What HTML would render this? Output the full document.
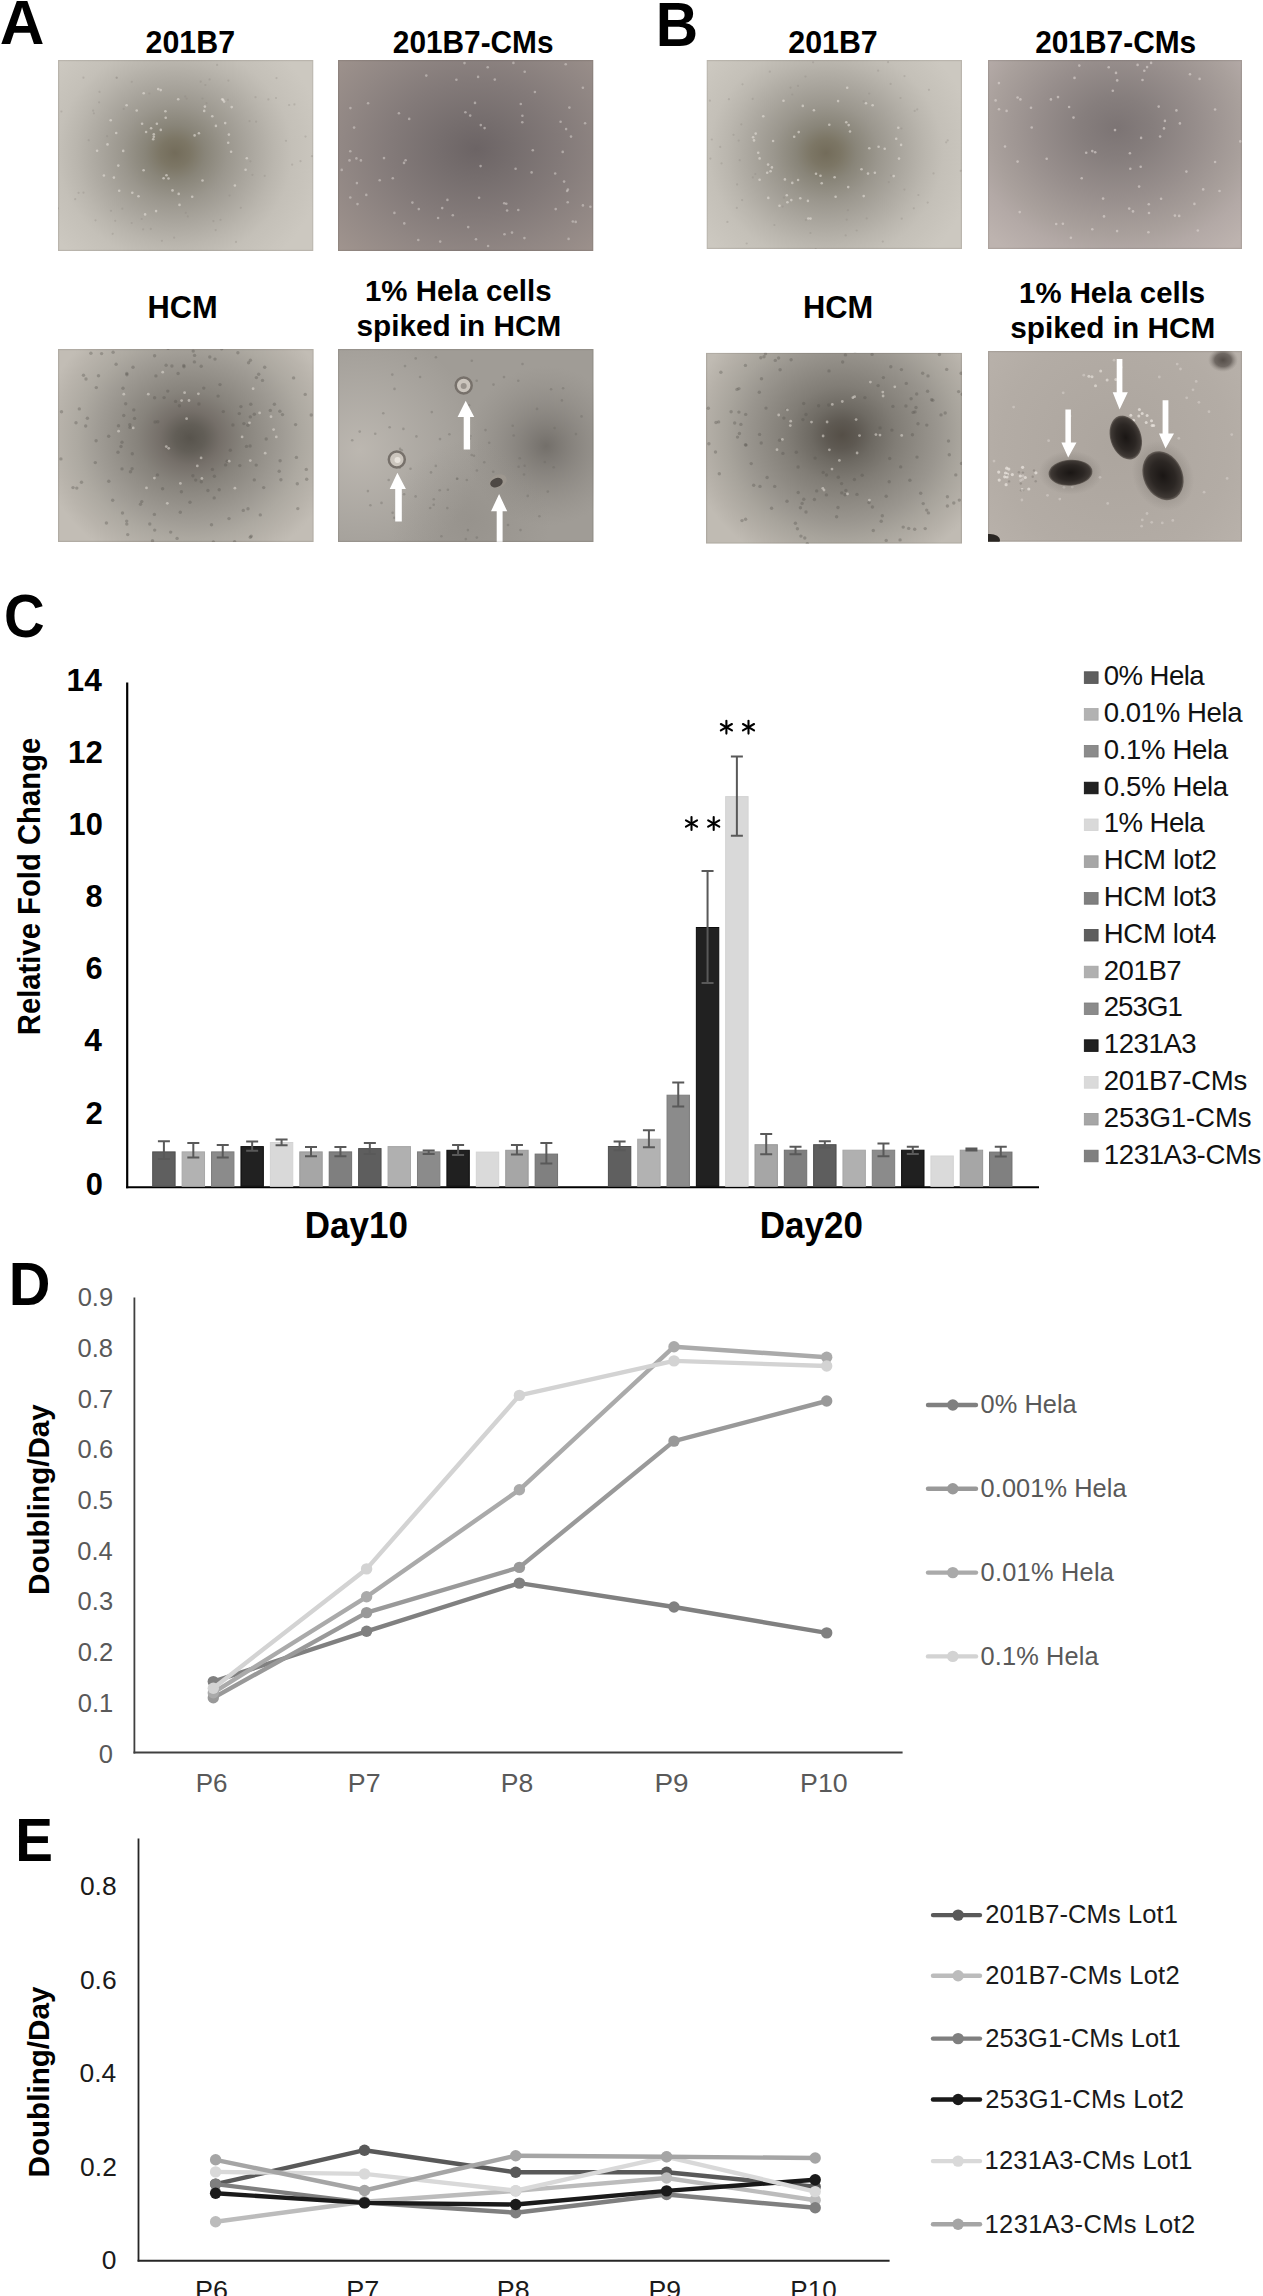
<!DOCTYPE html>
<html><head><meta charset="utf-8"><title>Figure</title>
<style>html,body{margin:0;padding:0;background:#fff;overflow:hidden;width:1263px;height:2296px;}svg{display:block;}
text{font-family:"Liberation Sans", sans-serif;font-kerning:none;}</style></head>
<body><svg width="1263" height="2296" viewBox="0 0 1263 2296">
<rect width="1263" height="2296" fill="#fff"/>
<defs>
<radialGradient id="gA1" gradientUnits="userSpaceOnUse" cx="175" cy="153" r="150" gradientTransform="translate(175 153) scale(1 0.93) translate(-175 -153)"><stop offset="0" stop-color="#736c5a"/><stop offset="0.1" stop-color="#7c7665"/><stop offset="0.2" stop-color="#898579"/><stop offset="0.35" stop-color="#9b978e"/><stop offset="0.5" stop-color="#aaa69e"/><stop offset="0.66" stop-color="#bab6ae"/><stop offset="0.78" stop-color="#c4c0b8"/><stop offset="1" stop-color="#ccc8c0"/></radialGradient>
<radialGradient id="gB1" gradientUnits="userSpaceOnUse" cx="826" cy="153" r="150" gradientTransform="translate(826 153) scale(1 0.93) translate(-826 -153)"><stop offset="0" stop-color="#736c5a"/><stop offset="0.1" stop-color="#7c7665"/><stop offset="0.2" stop-color="#898579"/><stop offset="0.35" stop-color="#9b978e"/><stop offset="0.5" stop-color="#aaa69e"/><stop offset="0.66" stop-color="#bab6ae"/><stop offset="0.78" stop-color="#c4c0b8"/><stop offset="1" stop-color="#ccc8c0"/></radialGradient>
<radialGradient id="gA2" gradientUnits="userSpaceOnUse" cx="476" cy="149" r="190" gradientTransform="translate(476 149) scale(1 0.8) translate(-476 -149)"><stop offset="0" stop-color="#6c6465"/><stop offset="0.2" stop-color="#766e6e"/><stop offset="0.45" stop-color="#837a79"/><stop offset="0.7" stop-color="#918784"/><stop offset="1" stop-color="#a1958f"/></radialGradient>
<radialGradient id="gA3" gradientUnits="userSpaceOnUse" cx="190" cy="438" r="150" gradientTransform="translate(190 438) scale(1 0.9) translate(-190 -438)"><stop offset="0" stop-color="#58544d"/><stop offset="0.1" stop-color="#625e57"/><stop offset="0.2" stop-color="#756f69"/><stop offset="0.35" stop-color="#87837c"/><stop offset="0.5" stop-color="#95918a"/><stop offset="0.62" stop-color="#a09c95"/><stop offset="0.75" stop-color="#ada9a1"/><stop offset="0.9" stop-color="#b9b4ac"/><stop offset="1" stop-color="#c2bdb5"/></radialGradient>
<radialGradient id="gB3" gradientUnits="userSpaceOnUse" cx="842" cy="435" r="155" gradientTransform="translate(842 435) scale(1 0.9) translate(-842 -435)"><stop offset="0" stop-color="#554f47"/><stop offset="0.1" stop-color="#5e5952"/><stop offset="0.2" stop-color="#6e6a63"/><stop offset="0.35" stop-color="#817d76"/><stop offset="0.5" stop-color="#8f8b84"/><stop offset="0.62" stop-color="#9a968f"/><stop offset="0.75" stop-color="#a8a49c"/><stop offset="0.9" stop-color="#b6b1a9"/><stop offset="1" stop-color="#c0bbb3"/></radialGradient>
<radialGradient id="gB2" gradientUnits="userSpaceOnUse" cx="1117" cy="128" r="180" gradientTransform="translate(1117 128) scale(1 0.85) translate(-1117 -128)"><stop offset="0" stop-color="#7c7474"/><stop offset="0.2" stop-color="#867e7d"/><stop offset="0.45" stop-color="#978e8c"/><stop offset="0.7" stop-color="#a9a09c"/><stop offset="0.82" stop-color="#b3a9a6"/><stop offset="1" stop-color="#bdb3af"/></radialGradient>
<radialGradient id="gA4d" gradientUnits="userSpaceOnUse" cx="546" cy="446" r="80"><stop offset="0" stop-color="#6e6a65" stop-opacity="0.9"/><stop offset="0.4" stop-color="#7a7671" stop-opacity="0.55"/><stop offset="1" stop-color="#8a8680" stop-opacity="0"/></radialGradient>
<radialGradient id="gA4l" gradientUnits="userSpaceOnUse" cx="360" cy="450" r="120"><stop offset="0" stop-color="#bfbab3" stop-opacity="0.9"/><stop offset="1" stop-color="#bdb9b3" stop-opacity="0"/></radialGradient>
<radialGradient id="gA4m" gradientUnits="userSpaceOnUse" cx="470" cy="520" r="80"><stop offset="0" stop-color="#8e8a84" stop-opacity="0.5"/><stop offset="1" stop-color="#8e8a84" stop-opacity="0"/></radialGradient>
<radialGradient id="gB4" gradientUnits="userSpaceOnUse" cx="1115" cy="446" r="190"><stop offset="0" stop-color="#aca59e"/><stop offset="0.6" stop-color="#b3aca5"/><stop offset="1" stop-color="#bcb5ae"/></radialGradient>
<radialGradient id="cell" gradientUnits="userSpaceOnUse" cx="0" cy="0" r="1"><stop offset="0" stop-color="#1c1816"/><stop offset="0.6" stop-color="#2e2926"/><stop offset="0.85" stop-color="#3d3733"/><stop offset="1" stop-color="#5a534e"/></radialGradient>
<radialGradient id="cellg" cx="0.5" cy="0.5" r="0.5"><stop offset="0" stop-color="#1a1614"/><stop offset="0.6" stop-color="#2c2724"/><stop offset="0.9" stop-color="#3f3935"/><stop offset="1" stop-color="#6a635d"/></radialGradient>
<radialGradient id="halo" cx="0.5" cy="0.5" r="0.5"><stop offset="0" stop-color="#6f6963" stop-opacity="0.7"/><stop offset="1" stop-color="#6f6963" stop-opacity="0"/></radialGradient>
<radialGradient id="blob" cx="0.5" cy="0.5" r="0.5"><stop offset="0" stop-color="#4f4843" stop-opacity="0.95"/><stop offset="0.55" stop-color="#5e5752" stop-opacity="0.8"/><stop offset="1" stop-color="#8a837d" stop-opacity="0"/></radialGradient>
<filter id="grain" x="0" y="0" width="100%" height="100%" color-interpolation-filters="sRGB"><feTurbulence type="fractalNoise" baseFrequency="0.11" numOctaves="2" seed="7" result="t"/><feColorMatrix in="t" type="matrix" values="0.2126 0.7152 0.0722 0 0 0.2126 0.7152 0.0722 0 0 0.2126 0.7152 0.0722 0 0 0 0 0 0 1" result="g"/><feComposite in="SourceGraphic" in2="g" operator="arithmetic" k1="0" k2="1" k3="0.18" k4="-0.09"/></filter>
</defs>
<svg x="58" y="60" width="255.5" height="191" viewBox="58 60 255.5 191" overflow="hidden">
<g><rect x="58" y="60" width="255.5" height="191" fill="url(#gA1)"/>
<circle cx="179.5" cy="204.9" r="1.3" fill="#e4e0d8" fill-opacity="0.6"/><circle cx="132.3" cy="192.7" r="1.3" fill="#e4e0d8" fill-opacity="0.6"/><circle cx="153.8" cy="134.3" r="1.3" fill="#e4e0d8" fill-opacity="0.6"/><circle cx="246.8" cy="158.2" r="1.3" fill="#e4e0d8" fill-opacity="0.6"/><circle cx="172.5" cy="190.4" r="1.3" fill="#e4e0d8" fill-opacity="0.6"/><circle cx="231.1" cy="151.7" r="1.3" fill="#e4e0d8" fill-opacity="0.6"/><circle cx="204.2" cy="110.9" r="1.3" fill="#e4e0d8" fill-opacity="0.6"/><circle cx="151.1" cy="128.2" r="1.3" fill="#e4e0d8" fill-opacity="0.6"/><circle cx="126.6" cy="105.2" r="1.3" fill="#e4e0d8" fill-opacity="0.6"/><circle cx="107.5" cy="144.4" r="1.3" fill="#e4e0d8" fill-opacity="0.6"/><circle cx="160.8" cy="129.9" r="1.3" fill="#e4e0d8" fill-opacity="0.6"/><circle cx="178.2" cy="99.2" r="1.3" fill="#e4e0d8" fill-opacity="0.6"/><circle cx="166.5" cy="175.2" r="1.3" fill="#e4e0d8" fill-opacity="0.6"/><circle cx="212.3" cy="116.3" r="1.3" fill="#e4e0d8" fill-opacity="0.6"/><circle cx="160.7" cy="90.1" r="1.3" fill="#e4e0d8" fill-opacity="0.6"/><circle cx="158.2" cy="89.1" r="1.3" fill="#e4e0d8" fill-opacity="0.6"/><circle cx="119.2" cy="190.7" r="1.3" fill="#e4e0d8" fill-opacity="0.6"/><circle cx="103.9" cy="175.5" r="1.3" fill="#e4e0d8" fill-opacity="0.6"/><circle cx="198.9" cy="133.2" r="1.3" fill="#e4e0d8" fill-opacity="0.6"/><circle cx="202.5" cy="180.5" r="1.3" fill="#e4e0d8" fill-opacity="0.6"/><circle cx="228.2" cy="142.8" r="1.3" fill="#e4e0d8" fill-opacity="0.6"/><circle cx="142.1" cy="123.7" r="1.3" fill="#e4e0d8" fill-opacity="0.6"/><circle cx="123.2" cy="150.9" r="1.3" fill="#e4e0d8" fill-opacity="0.6"/><circle cx="138.5" cy="196.2" r="1.3" fill="#e4e0d8" fill-opacity="0.6"/><circle cx="110.7" cy="120.2" r="1.3" fill="#e4e0d8" fill-opacity="0.6"/><circle cx="143.7" cy="93.2" r="1.3" fill="#e4e0d8" fill-opacity="0.6"/><circle cx="223.1" cy="99.9" r="1.3" fill="#e4e0d8" fill-opacity="0.6"/><circle cx="156.9" cy="123.8" r="1.3" fill="#e4e0d8" fill-opacity="0.6"/><circle cx="224.1" cy="101.6" r="1.3" fill="#e4e0d8" fill-opacity="0.6"/><circle cx="225.2" cy="123.1" r="1.3" fill="#e4e0d8" fill-opacity="0.6"/><circle cx="165.7" cy="117.8" r="1.3" fill="#e4e0d8" fill-opacity="0.6"/><circle cx="204.9" cy="106.6" r="1.3" fill="#e4e0d8" fill-opacity="0.6"/><circle cx="168.5" cy="178.5" r="1.3" fill="#e4e0d8" fill-opacity="0.6"/><circle cx="222.2" cy="99.2" r="1.3" fill="#e4e0d8" fill-opacity="0.6"/><circle cx="234.9" cy="185.5" r="1.3" fill="#e4e0d8" fill-opacity="0.6"/><circle cx="143.6" cy="170.3" r="1.3" fill="#e4e0d8" fill-opacity="0.6"/><circle cx="156.1" cy="211.1" r="1.3" fill="#e4e0d8" fill-opacity="0.6"/><circle cx="194.6" cy="135.4" r="1.3" fill="#e4e0d8" fill-opacity="0.6"/><circle cx="153.8" cy="136.8" r="1.3" fill="#e4e0d8" fill-opacity="0.6"/><circle cx="165.4" cy="111.3" r="1.3" fill="#e4e0d8" fill-opacity="0.6"/><circle cx="231.7" cy="107.1" r="1.3" fill="#e4e0d8" fill-opacity="0.6"/><circle cx="97.1" cy="150.7" r="1.3" fill="#e4e0d8" fill-opacity="0.6"/><circle cx="163.6" cy="178.3" r="1.3" fill="#e4e0d8" fill-opacity="0.6"/><circle cx="153.2" cy="139.3" r="1.3" fill="#e4e0d8" fill-opacity="0.6"/><circle cx="192.2" cy="196.7" r="1.3" fill="#e4e0d8" fill-opacity="0.6"/><circle cx="146.1" cy="132.0" r="1.3" fill="#e4e0d8" fill-opacity="0.6"/><circle cx="245.6" cy="169.8" r="1.3" fill="#e4e0d8" fill-opacity="0.6"/><circle cx="145.1" cy="214.4" r="1.3" fill="#e4e0d8" fill-opacity="0.6"/><circle cx="215.9" cy="125.9" r="1.3" fill="#e4e0d8" fill-opacity="0.6"/><circle cx="118.3" cy="165.6" r="1.3" fill="#e4e0d8" fill-opacity="0.6"/><circle cx="136.7" cy="110.5" r="1.3" fill="#e4e0d8" fill-opacity="0.6"/><circle cx="116.2" cy="133.0" r="1.3" fill="#e4e0d8" fill-opacity="0.6"/><circle cx="228.9" cy="134.6" r="1.3" fill="#e4e0d8" fill-opacity="0.6"/><circle cx="113.9" cy="177.6" r="1.3" fill="#e4e0d8" fill-opacity="0.6"/><circle cx="178.7" cy="193.9" r="1.3" fill="#e4e0d8" fill-opacity="0.6"/><circle cx="286.0" cy="140.8" r="1.1" fill="#8a867e" fill-opacity="0.3"/><circle cx="107.1" cy="136.2" r="1.1" fill="#8a867e" fill-opacity="0.3"/><circle cx="75.2" cy="199.2" r="1.1" fill="#8a867e" fill-opacity="0.3"/><circle cx="292.2" cy="164.7" r="1.1" fill="#8a867e" fill-opacity="0.3"/><circle cx="123.7" cy="108.9" r="1.1" fill="#8a867e" fill-opacity="0.3"/><circle cx="99.5" cy="91.9" r="1.1" fill="#8a867e" fill-opacity="0.3"/><circle cx="131.8" cy="81.8" r="1.1" fill="#8a867e" fill-opacity="0.3"/><circle cx="141.5" cy="58.0" r="1.1" fill="#8a867e" fill-opacity="0.3"/><circle cx="250.4" cy="161.3" r="1.1" fill="#8a867e" fill-opacity="0.3"/><circle cx="113.1" cy="56.0" r="1.1" fill="#8a867e" fill-opacity="0.3"/><circle cx="174.2" cy="237.7" r="1.1" fill="#8a867e" fill-opacity="0.3"/><circle cx="93.1" cy="110.7" r="1.1" fill="#8a867e" fill-opacity="0.3"/><circle cx="111.0" cy="210.8" r="1.1" fill="#8a867e" fill-opacity="0.3"/><circle cx="95.5" cy="220.3" r="1.1" fill="#8a867e" fill-opacity="0.3"/><circle cx="143.2" cy="229.3" r="1.1" fill="#8a867e" fill-opacity="0.3"/><circle cx="185.2" cy="96.4" r="1.1" fill="#8a867e" fill-opacity="0.3"/><circle cx="61.4" cy="111.5" r="1.1" fill="#8a867e" fill-opacity="0.3"/><circle cx="141.7" cy="219.0" r="1.1" fill="#8a867e" fill-opacity="0.3"/><circle cx="205.4" cy="85.0" r="1.1" fill="#8a867e" fill-opacity="0.3"/><circle cx="215.7" cy="230.1" r="1.1" fill="#8a867e" fill-opacity="0.3"/><circle cx="149.4" cy="93.5" r="1.1" fill="#8a867e" fill-opacity="0.3"/><circle cx="131.7" cy="223.0" r="1.1" fill="#8a867e" fill-opacity="0.3"/><circle cx="228.4" cy="80.6" r="1.1" fill="#8a867e" fill-opacity="0.3"/><circle cx="227.9" cy="99.8" r="1.1" fill="#8a867e" fill-opacity="0.3"/><circle cx="112.7" cy="233.8" r="1.1" fill="#8a867e" fill-opacity="0.3"/><circle cx="255.5" cy="97.2" r="1.1" fill="#8a867e" fill-opacity="0.3"/><circle cx="187.8" cy="216.4" r="1.1" fill="#8a867e" fill-opacity="0.3"/><circle cx="88.7" cy="140.2" r="1.1" fill="#8a867e" fill-opacity="0.3"/><circle cx="220.8" cy="56.4" r="1.1" fill="#8a867e" fill-opacity="0.3"/><circle cx="213.4" cy="221.1" r="1.1" fill="#8a867e" fill-opacity="0.3"/><circle cx="217.1" cy="64.9" r="1.1" fill="#8a867e" fill-opacity="0.3"/><circle cx="209.6" cy="79.4" r="1.1" fill="#8a867e" fill-opacity="0.3"/><circle cx="240.8" cy="207.8" r="1.1" fill="#8a867e" fill-opacity="0.3"/><circle cx="200.7" cy="81.7" r="1.1" fill="#8a867e" fill-opacity="0.3"/><circle cx="115.2" cy="220.8" r="1.1" fill="#8a867e" fill-opacity="0.3"/><circle cx="83.5" cy="192.7" r="1.1" fill="#8a867e" fill-opacity="0.3"/><circle cx="249.5" cy="121.1" r="1.1" fill="#8a867e" fill-opacity="0.3"/><circle cx="311.9" cy="156.2" r="1.1" fill="#8a867e" fill-opacity="0.3"/><circle cx="276.5" cy="78.1" r="1.1" fill="#8a867e" fill-opacity="0.3"/><circle cx="49.2" cy="196.3" r="1.1" fill="#8a867e" fill-opacity="0.3"/><circle cx="256.1" cy="121.7" r="1.1" fill="#8a867e" fill-opacity="0.3"/><circle cx="171.3" cy="50.0" r="1.1" fill="#8a867e" fill-opacity="0.3"/><circle cx="116.8" cy="77.9" r="1.1" fill="#8a867e" fill-opacity="0.3"/><circle cx="150.8" cy="228.9" r="1.1" fill="#8a867e" fill-opacity="0.3"/><circle cx="185.8" cy="212.8" r="1.1" fill="#8a867e" fill-opacity="0.3"/><circle cx="93.9" cy="113.3" r="1.1" fill="#8a867e" fill-opacity="0.3"/><circle cx="202.5" cy="98.5" r="1.1" fill="#8a867e" fill-opacity="0.3"/><circle cx="276.0" cy="98.0" r="1.1" fill="#8a867e" fill-opacity="0.3"/><circle cx="294.4" cy="104.4" r="1.1" fill="#8a867e" fill-opacity="0.3"/><circle cx="268.4" cy="99.4" r="1.1" fill="#8a867e" fill-opacity="0.3"/><circle cx="300.5" cy="161.2" r="1.1" fill="#8a867e" fill-opacity="0.3"/><circle cx="220.5" cy="219.8" r="1.1" fill="#8a867e" fill-opacity="0.3"/><circle cx="116.5" cy="77.6" r="1.1" fill="#8a867e" fill-opacity="0.3"/><circle cx="57.8" cy="208.4" r="1.1" fill="#8a867e" fill-opacity="0.3"/><circle cx="99.1" cy="102.3" r="1.1" fill="#8a867e" fill-opacity="0.3"/><circle cx="172.9" cy="257.1" r="1.1" fill="#8a867e" fill-opacity="0.3"/><circle cx="48.2" cy="167.4" r="1.1" fill="#8a867e" fill-opacity="0.3"/><circle cx="122.3" cy="208.7" r="1.1" fill="#8a867e" fill-opacity="0.3"/><circle cx="48.0" cy="130.9" r="1.1" fill="#8a867e" fill-opacity="0.3"/><circle cx="236.0" cy="241.9" r="1.1" fill="#8a867e" fill-opacity="0.3"/><circle cx="289.1" cy="105.0" r="1.1" fill="#8a867e" fill-opacity="0.3"/><circle cx="206.5" cy="103.2" r="1.1" fill="#8a867e" fill-opacity="0.3"/><circle cx="83.4" cy="77.7" r="1.1" fill="#8a867e" fill-opacity="0.3"/><circle cx="264.7" cy="175.9" r="1.1" fill="#8a867e" fill-opacity="0.3"/><circle cx="161.9" cy="240.8" r="1.1" fill="#8a867e" fill-opacity="0.3"/><circle cx="78.6" cy="192.8" r="1.1" fill="#8a867e" fill-opacity="0.3"/><circle cx="186.6" cy="98.6" r="1.1" fill="#8a867e" fill-opacity="0.3"/><circle cx="252.4" cy="174.8" r="1.1" fill="#8a867e" fill-opacity="0.3"/><circle cx="229.5" cy="195.6" r="1.1" fill="#8a867e" fill-opacity="0.3"/><circle cx="305.5" cy="136.6" r="1.1" fill="#8a867e" fill-opacity="0.3"/></g>
<rect x="58.6" y="60.6" width="254.3" height="189.8" fill="none" stroke="#3a302c" stroke-opacity="0.12" stroke-width="1.2"/>
</svg>
<svg x="338" y="60" width="255.5" height="191" viewBox="338 60 255.5 191" overflow="hidden">
<g><rect x="338" y="60" width="255.5" height="191" fill="url(#gA2)"/>
<circle cx="567.1" cy="191.0" r="1.3" fill="#cfc8c4" fill-opacity="0.6"/><circle cx="442.2" cy="208.1" r="1.3" fill="#cfc8c4" fill-opacity="0.6"/><circle cx="404.3" cy="223.4" r="1.3" fill="#cfc8c4" fill-opacity="0.6"/><circle cx="398.9" cy="113.2" r="1.3" fill="#cfc8c4" fill-opacity="0.6"/><circle cx="507.1" cy="210.5" r="1.3" fill="#cfc8c4" fill-opacity="0.6"/><circle cx="555.7" cy="209.1" r="1.3" fill="#cfc8c4" fill-opacity="0.6"/><circle cx="456.4" cy="79.7" r="1.3" fill="#cfc8c4" fill-opacity="0.6"/><circle cx="531.6" cy="172.4" r="1.3" fill="#cfc8c4" fill-opacity="0.6"/><circle cx="394.4" cy="212.9" r="1.3" fill="#cfc8c4" fill-opacity="0.6"/><circle cx="494.8" cy="79.6" r="1.3" fill="#cfc8c4" fill-opacity="0.6"/><circle cx="513.4" cy="62.9" r="1.3" fill="#cfc8c4" fill-opacity="0.6"/><circle cx="392.8" cy="178.2" r="1.3" fill="#cfc8c4" fill-opacity="0.6"/><circle cx="350.3" cy="151.3" r="1.3" fill="#cfc8c4" fill-opacity="0.6"/><circle cx="366.3" cy="194.9" r="1.3" fill="#cfc8c4" fill-opacity="0.6"/><circle cx="404.0" cy="162.9" r="1.3" fill="#cfc8c4" fill-opacity="0.6"/><circle cx="354.1" cy="127.6" r="1.3" fill="#cfc8c4" fill-opacity="0.6"/><circle cx="564.1" cy="181.6" r="1.3" fill="#cfc8c4" fill-opacity="0.6"/><circle cx="350.3" cy="197.5" r="1.3" fill="#cfc8c4" fill-opacity="0.6"/><circle cx="560.6" cy="121.7" r="1.3" fill="#cfc8c4" fill-opacity="0.6"/><circle cx="582.9" cy="87.8" r="1.3" fill="#cfc8c4" fill-opacity="0.6"/><circle cx="468.2" cy="227.1" r="1.3" fill="#cfc8c4" fill-opacity="0.6"/><circle cx="572.8" cy="221.5" r="1.3" fill="#cfc8c4" fill-opacity="0.6"/><circle cx="402.0" cy="56.7" r="1.3" fill="#cfc8c4" fill-opacity="0.6"/><circle cx="508.3" cy="58.4" r="1.3" fill="#cfc8c4" fill-opacity="0.6"/><circle cx="464.5" cy="63.1" r="1.3" fill="#cfc8c4" fill-opacity="0.6"/><circle cx="567.7" cy="202.2" r="1.3" fill="#cfc8c4" fill-opacity="0.6"/><circle cx="532.8" cy="150.3" r="1.3" fill="#cfc8c4" fill-opacity="0.6"/><circle cx="480.8" cy="125.1" r="1.3" fill="#cfc8c4" fill-opacity="0.6"/><circle cx="515.6" cy="168.8" r="1.3" fill="#cfc8c4" fill-opacity="0.6"/><circle cx="522.4" cy="115.8" r="1.3" fill="#cfc8c4" fill-opacity="0.6"/><circle cx="612.1" cy="164.5" r="1.3" fill="#cfc8c4" fill-opacity="0.6"/><circle cx="575.7" cy="221.9" r="1.3" fill="#cfc8c4" fill-opacity="0.6"/><circle cx="412.6" cy="55.7" r="1.3" fill="#cfc8c4" fill-opacity="0.6"/><circle cx="585.1" cy="123.2" r="1.3" fill="#cfc8c4" fill-opacity="0.6"/><circle cx="484.6" cy="128.1" r="1.3" fill="#cfc8c4" fill-opacity="0.6"/><circle cx="487.7" cy="67.3" r="1.3" fill="#cfc8c4" fill-opacity="0.6"/><circle cx="465.4" cy="112.3" r="1.3" fill="#cfc8c4" fill-opacity="0.6"/><circle cx="475.1" cy="37.8" r="1.3" fill="#cfc8c4" fill-opacity="0.6"/><circle cx="555.2" cy="173.5" r="1.3" fill="#cfc8c4" fill-opacity="0.6"/><circle cx="350.4" cy="108.1" r="1.3" fill="#cfc8c4" fill-opacity="0.6"/><circle cx="479.1" cy="197.7" r="1.3" fill="#cfc8c4" fill-opacity="0.6"/><circle cx="476.0" cy="239.3" r="1.3" fill="#cfc8c4" fill-opacity="0.6"/><circle cx="478.1" cy="76.9" r="1.3" fill="#cfc8c4" fill-opacity="0.6"/><circle cx="412.4" cy="202.6" r="1.3" fill="#cfc8c4" fill-opacity="0.6"/><circle cx="418.8" cy="209.1" r="1.3" fill="#cfc8c4" fill-opacity="0.6"/><circle cx="567.9" cy="189.6" r="1.3" fill="#cfc8c4" fill-opacity="0.6"/><circle cx="571.0" cy="136.6" r="1.3" fill="#cfc8c4" fill-opacity="0.6"/><circle cx="475.0" cy="102.9" r="1.3" fill="#cfc8c4" fill-opacity="0.6"/><circle cx="428.6" cy="55.8" r="1.3" fill="#cfc8c4" fill-opacity="0.6"/><circle cx="426.3" cy="75.6" r="1.3" fill="#cfc8c4" fill-opacity="0.6"/><circle cx="356.4" cy="158.4" r="1.3" fill="#cfc8c4" fill-opacity="0.6"/><circle cx="522.3" cy="122.3" r="1.3" fill="#cfc8c4" fill-opacity="0.6"/><circle cx="582.9" cy="205.4" r="1.3" fill="#cfc8c4" fill-opacity="0.6"/><circle cx="569.4" cy="107.6" r="1.3" fill="#cfc8c4" fill-opacity="0.6"/><circle cx="356.9" cy="183.1" r="1.3" fill="#cfc8c4" fill-opacity="0.6"/><circle cx="506.3" cy="203.7" r="1.3" fill="#cfc8c4" fill-opacity="0.6"/><circle cx="512.0" cy="232.6" r="1.3" fill="#cfc8c4" fill-opacity="0.6"/><circle cx="447.4" cy="199.9" r="1.3" fill="#cfc8c4" fill-opacity="0.6"/><circle cx="423.1" cy="44.3" r="1.3" fill="#cfc8c4" fill-opacity="0.6"/><circle cx="440.2" cy="241.6" r="1.3" fill="#cfc8c4" fill-opacity="0.6"/><circle cx="357.5" cy="204.1" r="1.3" fill="#cfc8c4" fill-opacity="0.6"/><circle cx="409.2" cy="118.9" r="1.3" fill="#cfc8c4" fill-opacity="0.6"/><circle cx="480.6" cy="166.1" r="1.3" fill="#cfc8c4" fill-opacity="0.6"/><circle cx="384.0" cy="158.1" r="1.3" fill="#cfc8c4" fill-opacity="0.6"/><circle cx="518.3" cy="210.0" r="1.3" fill="#cfc8c4" fill-opacity="0.6"/><circle cx="418.3" cy="240.0" r="1.3" fill="#cfc8c4" fill-opacity="0.6"/><circle cx="568.6" cy="238.9" r="1.3" fill="#cfc8c4" fill-opacity="0.6"/><circle cx="360.9" cy="160.4" r="1.3" fill="#cfc8c4" fill-opacity="0.6"/><circle cx="341.7" cy="169.9" r="1.3" fill="#cfc8c4" fill-opacity="0.6"/><circle cx="524.7" cy="71.7" r="1.3" fill="#cfc8c4" fill-opacity="0.6"/><circle cx="349.5" cy="160.4" r="1.3" fill="#cfc8c4" fill-opacity="0.6"/><circle cx="534.9" cy="92.0" r="1.3" fill="#cfc8c4" fill-opacity="0.6"/><circle cx="460.9" cy="36.9" r="1.3" fill="#cfc8c4" fill-opacity="0.6"/><circle cx="405.6" cy="160.2" r="1.3" fill="#cfc8c4" fill-opacity="0.6"/><circle cx="488.1" cy="246.0" r="1.3" fill="#cfc8c4" fill-opacity="0.6"/><circle cx="409.6" cy="48.6" r="1.3" fill="#cfc8c4" fill-opacity="0.6"/><circle cx="520.8" cy="104.0" r="1.3" fill="#cfc8c4" fill-opacity="0.6"/><circle cx="504.2" cy="203.3" r="1.3" fill="#cfc8c4" fill-opacity="0.6"/><circle cx="524.4" cy="238.1" r="1.3" fill="#cfc8c4" fill-opacity="0.6"/><circle cx="565.7" cy="64.3" r="1.3" fill="#cfc8c4" fill-opacity="0.6"/><circle cx="471.6" cy="255.9" r="1.3" fill="#cfc8c4" fill-opacity="0.6"/><circle cx="438.1" cy="218.0" r="1.3" fill="#cfc8c4" fill-opacity="0.6"/><circle cx="470.2" cy="115.6" r="1.3" fill="#cfc8c4" fill-opacity="0.6"/><circle cx="590.4" cy="206.7" r="1.3" fill="#cfc8c4" fill-opacity="0.6"/><circle cx="452.8" cy="215.3" r="1.3" fill="#cfc8c4" fill-opacity="0.6"/><circle cx="368.1" cy="103.3" r="1.3" fill="#cfc8c4" fill-opacity="0.6"/><circle cx="562.7" cy="151.9" r="1.3" fill="#cfc8c4" fill-opacity="0.6"/><circle cx="379.7" cy="180.3" r="1.3" fill="#cfc8c4" fill-opacity="0.6"/><circle cx="504.5" cy="234.2" r="1.3" fill="#cfc8c4" fill-opacity="0.6"/><circle cx="566.1" cy="129.1" r="1.3" fill="#cfc8c4" fill-opacity="0.6"/></g>
<rect x="338.6" y="60.6" width="254.3" height="189.8" fill="none" stroke="#3a302c" stroke-opacity="0.12" stroke-width="1.2"/>
</svg>
<svg x="58" y="349" width="255.75" height="193" viewBox="58 349 255.75 193" overflow="hidden">
<g><rect x="58" y="349" width="255.75" height="193" fill="url(#gA3)"/>
<circle cx="129.8" cy="424.8" r="1.7" fill="#57534c" fill-opacity="0.35"/><circle cx="170.7" cy="532.1" r="1.7" fill="#57534c" fill-opacity="0.35"/><circle cx="297.8" cy="508.6" r="1.7" fill="#57534c" fill-opacity="0.35"/><circle cx="239.3" cy="413.6" r="1.7" fill="#57534c" fill-opacity="0.35"/><circle cx="279.9" cy="411.3" r="1.7" fill="#57534c" fill-opacity="0.35"/><circle cx="208.5" cy="337.9" r="1.7" fill="#57534c" fill-opacity="0.35"/><circle cx="154.7" cy="530.1" r="1.7" fill="#57534c" fill-opacity="0.35"/><circle cx="113.1" cy="352.3" r="1.7" fill="#57534c" fill-opacity="0.35"/><circle cx="177.1" cy="538.4" r="1.7" fill="#57534c" fill-opacity="0.35"/><circle cx="311.2" cy="415.0" r="1.7" fill="#57534c" fill-opacity="0.35"/><circle cx="130.0" cy="427.4" r="1.7" fill="#57534c" fill-opacity="0.35"/><circle cx="96.1" cy="440.8" r="1.7" fill="#57534c" fill-opacity="0.35"/><circle cx="165.0" cy="343.8" r="1.7" fill="#57534c" fill-opacity="0.35"/><circle cx="123.8" cy="415.5" r="1.7" fill="#57534c" fill-opacity="0.35"/><circle cx="116.1" cy="364.3" r="1.7" fill="#57534c" fill-opacity="0.35"/><circle cx="251.2" cy="536.3" r="1.7" fill="#57534c" fill-opacity="0.35"/><circle cx="154.6" cy="397.8" r="1.7" fill="#57534c" fill-opacity="0.35"/><circle cx="250.3" cy="416.9" r="1.7" fill="#57534c" fill-opacity="0.35"/><circle cx="126.8" cy="524.1" r="1.7" fill="#57534c" fill-opacity="0.35"/><circle cx="96.3" cy="387.6" r="1.7" fill="#57534c" fill-opacity="0.35"/><circle cx="126.8" cy="373.5" r="1.7" fill="#57534c" fill-opacity="0.35"/><circle cx="162.6" cy="488.7" r="1.7" fill="#57534c" fill-opacity="0.35"/><circle cx="306.7" cy="479.2" r="1.7" fill="#57534c" fill-opacity="0.35"/><circle cx="193.2" cy="351.1" r="1.7" fill="#57534c" fill-opacity="0.35"/><circle cx="183.8" cy="365.5" r="1.7" fill="#57534c" fill-opacity="0.35"/><circle cx="180.3" cy="512.3" r="1.7" fill="#57534c" fill-opacity="0.35"/><circle cx="223.3" cy="411.6" r="1.7" fill="#57534c" fill-opacity="0.35"/><circle cx="108.7" cy="436.2" r="1.7" fill="#57534c" fill-opacity="0.35"/><circle cx="201.2" cy="366.3" r="1.7" fill="#57534c" fill-opacity="0.35"/><circle cx="140.5" cy="504.2" r="1.7" fill="#57534c" fill-opacity="0.35"/><circle cx="61.5" cy="411.7" r="1.7" fill="#57534c" fill-opacity="0.35"/><circle cx="106.4" cy="523.0" r="1.7" fill="#57534c" fill-opacity="0.35"/><circle cx="254.3" cy="479.9" r="1.7" fill="#57534c" fill-opacity="0.35"/><circle cx="239.8" cy="465.6" r="1.7" fill="#57534c" fill-opacity="0.35"/><circle cx="213.4" cy="340.4" r="1.7" fill="#57534c" fill-opacity="0.35"/><circle cx="219.2" cy="489.7" r="1.7" fill="#57534c" fill-opacity="0.35"/><circle cx="76.8" cy="488.1" r="1.7" fill="#57534c" fill-opacity="0.35"/><circle cx="242.6" cy="345.9" r="1.7" fill="#57534c" fill-opacity="0.35"/><circle cx="133.8" cy="409.9" r="1.7" fill="#57534c" fill-opacity="0.35"/><circle cx="130.5" cy="471.8" r="1.7" fill="#57534c" fill-opacity="0.35"/><circle cx="76.0" cy="422.7" r="1.7" fill="#57534c" fill-opacity="0.35"/><circle cx="214.2" cy="497.9" r="1.7" fill="#57534c" fill-opacity="0.35"/><circle cx="198.9" cy="404.0" r="1.7" fill="#57534c" fill-opacity="0.35"/><circle cx="236.6" cy="335.0" r="1.7" fill="#57534c" fill-opacity="0.35"/><circle cx="282.5" cy="414.6" r="1.7" fill="#57534c" fill-opacity="0.35"/><circle cx="79.3" cy="408.9" r="1.7" fill="#57534c" fill-opacity="0.35"/><circle cx="90.9" cy="353.3" r="1.7" fill="#57534c" fill-opacity="0.35"/><circle cx="155.9" cy="375.9" r="1.7" fill="#57534c" fill-opacity="0.35"/><circle cx="258.7" cy="374.3" r="1.7" fill="#57534c" fill-opacity="0.35"/><circle cx="86.0" cy="379.0" r="1.7" fill="#57534c" fill-opacity="0.35"/><circle cx="322.9" cy="439.5" r="1.7" fill="#57534c" fill-opacity="0.35"/><circle cx="133.0" cy="367.2" r="1.7" fill="#57534c" fill-opacity="0.35"/><circle cx="85.7" cy="426.0" r="1.7" fill="#57534c" fill-opacity="0.35"/><circle cx="229.0" cy="518.6" r="1.7" fill="#57534c" fill-opacity="0.35"/><circle cx="296.4" cy="457.4" r="1.7" fill="#57534c" fill-opacity="0.35"/><circle cx="126.9" cy="374.8" r="1.7" fill="#57534c" fill-opacity="0.35"/><circle cx="55.4" cy="392.6" r="1.7" fill="#57534c" fill-opacity="0.35"/><circle cx="240.9" cy="406.6" r="1.7" fill="#57534c" fill-opacity="0.35"/><circle cx="221.7" cy="348.8" r="1.7" fill="#57534c" fill-opacity="0.35"/><circle cx="280.1" cy="460.7" r="1.7" fill="#57534c" fill-opacity="0.35"/><circle cx="195.7" cy="480.1" r="1.7" fill="#57534c" fill-opacity="0.35"/><circle cx="49.3" cy="411.1" r="1.7" fill="#57534c" fill-opacity="0.35"/><circle cx="127.7" cy="534.6" r="1.7" fill="#57534c" fill-opacity="0.35"/><circle cx="167.8" cy="391.1" r="1.7" fill="#57534c" fill-opacity="0.35"/><circle cx="264.7" cy="367.3" r="1.7" fill="#57534c" fill-opacity="0.35"/><circle cx="305.2" cy="394.4" r="1.7" fill="#57534c" fill-opacity="0.35"/><circle cx="184.0" cy="366.8" r="1.7" fill="#57534c" fill-opacity="0.35"/><circle cx="240.6" cy="333.7" r="1.7" fill="#57534c" fill-opacity="0.35"/><circle cx="256.4" cy="377.6" r="1.7" fill="#57534c" fill-opacity="0.35"/><circle cx="194.6" cy="355.4" r="1.7" fill="#57534c" fill-opacity="0.35"/><circle cx="227.2" cy="461.3" r="1.7" fill="#57534c" fill-opacity="0.35"/><circle cx="256.2" cy="465.1" r="1.7" fill="#57534c" fill-opacity="0.35"/><circle cx="248.0" cy="508.8" r="1.7" fill="#57534c" fill-opacity="0.35"/><circle cx="154.6" cy="355.8" r="1.7" fill="#57534c" fill-opacity="0.35"/><circle cx="81.5" cy="482.3" r="1.7" fill="#57534c" fill-opacity="0.35"/><circle cx="154.4" cy="514.4" r="1.7" fill="#57534c" fill-opacity="0.35"/><circle cx="194.4" cy="361.9" r="1.7" fill="#57534c" fill-opacity="0.35"/><circle cx="250.3" cy="537.2" r="1.7" fill="#57534c" fill-opacity="0.35"/><circle cx="171.9" cy="366.0" r="1.7" fill="#57534c" fill-opacity="0.35"/><circle cx="112.7" cy="500.3" r="1.7" fill="#57534c" fill-opacity="0.35"/><circle cx="125.7" cy="403.8" r="1.7" fill="#57534c" fill-opacity="0.35"/><circle cx="266.2" cy="439.0" r="1.7" fill="#57534c" fill-opacity="0.35"/><circle cx="203.8" cy="388.1" r="1.7" fill="#57534c" fill-opacity="0.35"/><circle cx="118.0" cy="452.2" r="1.7" fill="#57534c" fill-opacity="0.35"/><circle cx="207.9" cy="490.5" r="1.7" fill="#57534c" fill-opacity="0.35"/><circle cx="132.1" cy="468.7" r="1.7" fill="#57534c" fill-opacity="0.35"/><circle cx="250.1" cy="446.0" r="1.7" fill="#57534c" fill-opacity="0.35"/><circle cx="243.3" cy="510.4" r="1.7" fill="#57534c" fill-opacity="0.35"/><circle cx="230.3" cy="450.2" r="1.7" fill="#57534c" fill-opacity="0.35"/><circle cx="95.3" cy="462.6" r="1.7" fill="#57534c" fill-opacity="0.35"/><circle cx="175.6" cy="401.4" r="1.7" fill="#57534c" fill-opacity="0.35"/><circle cx="108.8" cy="481.3" r="1.7" fill="#57534c" fill-opacity="0.35"/><circle cx="335.5" cy="456.9" r="1.7" fill="#57534c" fill-opacity="0.35"/><circle cx="201.3" cy="481.8" r="1.7" fill="#57534c" fill-opacity="0.35"/><circle cx="121.0" cy="446.5" r="1.7" fill="#57534c" fill-opacity="0.35"/><circle cx="123.0" cy="388.2" r="1.7" fill="#57534c" fill-opacity="0.35"/><circle cx="225.6" cy="464.9" r="1.7" fill="#57534c" fill-opacity="0.35"/><circle cx="178.1" cy="373.5" r="1.7" fill="#57534c" fill-opacity="0.35"/><circle cx="215.0" cy="359.1" r="1.7" fill="#57534c" fill-opacity="0.35"/><circle cx="270.3" cy="410.4" r="1.7" fill="#57534c" fill-opacity="0.35"/><circle cx="190.0" cy="502.2" r="1.7" fill="#57534c" fill-opacity="0.35"/><circle cx="237.9" cy="352.7" r="1.7" fill="#57534c" fill-opacity="0.35"/><circle cx="157.4" cy="474.9" r="1.7" fill="#57534c" fill-opacity="0.35"/><circle cx="129.1" cy="334.7" r="1.7" fill="#57534c" fill-opacity="0.35"/><circle cx="157.8" cy="421.8" r="1.7" fill="#57534c" fill-opacity="0.35"/><circle cx="246.5" cy="446.4" r="1.7" fill="#57534c" fill-opacity="0.35"/><circle cx="212.4" cy="469.4" r="1.7" fill="#57534c" fill-opacity="0.35"/><circle cx="306.3" cy="469.4" r="1.7" fill="#57534c" fill-opacity="0.35"/><circle cx="250.8" cy="404.2" r="1.7" fill="#57534c" fill-opacity="0.35"/><circle cx="295.6" cy="424.6" r="1.7" fill="#57534c" fill-opacity="0.35"/><circle cx="237.6" cy="333.7" r="1.7" fill="#57534c" fill-opacity="0.35"/><circle cx="232.9" cy="425.0" r="1.7" fill="#57534c" fill-opacity="0.35"/><circle cx="149.8" cy="524.0" r="1.7" fill="#57534c" fill-opacity="0.35"/><circle cx="243.9" cy="423.6" r="1.7" fill="#57534c" fill-opacity="0.35"/><circle cx="152.5" cy="540.7" r="1.7" fill="#57534c" fill-opacity="0.35"/><circle cx="263.7" cy="487.6" r="1.7" fill="#57534c" fill-opacity="0.35"/><circle cx="126.7" cy="521.1" r="1.7" fill="#57534c" fill-opacity="0.35"/><circle cx="254.3" cy="414.3" r="1.7" fill="#57534c" fill-opacity="0.35"/><circle cx="181.7" cy="338.6" r="1.7" fill="#57534c" fill-opacity="0.35"/><circle cx="248.6" cy="362.7" r="1.7" fill="#57534c" fill-opacity="0.35"/><circle cx="274.4" cy="404.3" r="1.7" fill="#57534c" fill-opacity="0.35"/><circle cx="122.0" cy="468.9" r="1.7" fill="#57534c" fill-opacity="0.35"/><circle cx="209.8" cy="357.0" r="1.7" fill="#57534c" fill-opacity="0.35"/><circle cx="181.4" cy="491.7" r="1.7" fill="#57534c" fill-opacity="0.35"/><circle cx="168.1" cy="348.2" r="1.7" fill="#57534c" fill-opacity="0.35"/><circle cx="166.1" cy="365.3" r="1.7" fill="#57534c" fill-opacity="0.35"/><circle cx="122.0" cy="442.2" r="1.7" fill="#57534c" fill-opacity="0.35"/><circle cx="179.4" cy="405.7" r="1.7" fill="#57534c" fill-opacity="0.35"/><circle cx="60.9" cy="458.9" r="1.7" fill="#57534c" fill-opacity="0.35"/><circle cx="164.1" cy="397.6" r="1.7" fill="#57534c" fill-opacity="0.35"/><circle cx="201.2" cy="543.9" r="1.7" fill="#57534c" fill-opacity="0.35"/><circle cx="101.6" cy="353.6" r="1.7" fill="#57534c" fill-opacity="0.35"/><circle cx="262.5" cy="380.4" r="1.7" fill="#57534c" fill-opacity="0.35"/><circle cx="293.6" cy="377.9" r="1.7" fill="#57534c" fill-opacity="0.35"/><circle cx="141.8" cy="501.6" r="1.7" fill="#57534c" fill-opacity="0.35"/><circle cx="279.2" cy="471.2" r="1.7" fill="#57534c" fill-opacity="0.35"/><circle cx="247.9" cy="425.3" r="1.7" fill="#57534c" fill-opacity="0.35"/><circle cx="134.6" cy="418.4" r="1.7" fill="#57534c" fill-opacity="0.35"/><circle cx="297.3" cy="483.8" r="1.7" fill="#57534c" fill-opacity="0.35"/><circle cx="192.9" cy="475.8" r="1.7" fill="#57534c" fill-opacity="0.35"/><circle cx="260.3" cy="514.9" r="1.7" fill="#57534c" fill-opacity="0.35"/><circle cx="155.1" cy="422.0" r="1.7" fill="#57534c" fill-opacity="0.35"/><circle cx="208.6" cy="550.3" r="1.7" fill="#57534c" fill-opacity="0.35"/><circle cx="211.5" cy="524.8" r="1.7" fill="#57534c" fill-opacity="0.35"/><circle cx="73.0" cy="487.6" r="1.7" fill="#57534c" fill-opacity="0.35"/><circle cx="83.5" cy="375.2" r="1.7" fill="#57534c" fill-opacity="0.35"/><circle cx="118.5" cy="425.7" r="1.7" fill="#57534c" fill-opacity="0.35"/><circle cx="214.4" cy="476.2" r="1.7" fill="#57534c" fill-opacity="0.35"/><circle cx="218.1" cy="396.1" r="1.7" fill="#57534c" fill-opacity="0.35"/><circle cx="335.9" cy="455.0" r="1.7" fill="#57534c" fill-opacity="0.35"/><circle cx="234.6" cy="541.6" r="1.7" fill="#57534c" fill-opacity="0.35"/><circle cx="280.9" cy="479.7" r="1.7" fill="#57534c" fill-opacity="0.35"/><circle cx="213.4" cy="541.9" r="1.7" fill="#57534c" fill-opacity="0.35"/><circle cx="98.5" cy="375.8" r="1.7" fill="#57534c" fill-opacity="0.35"/><circle cx="200.1" cy="330.4" r="1.7" fill="#57534c" fill-opacity="0.35"/><circle cx="122.5" cy="513.0" r="1.7" fill="#57534c" fill-opacity="0.35"/><circle cx="132.3" cy="453.7" r="1.7" fill="#57534c" fill-opacity="0.35"/><circle cx="250.4" cy="360.2" r="1.7" fill="#57534c" fill-opacity="0.35"/><circle cx="220.0" cy="384.6" r="1.7" fill="#57534c" fill-opacity="0.35"/><circle cx="87.4" cy="418.2" r="1.7" fill="#57534c" fill-opacity="0.35"/><circle cx="186.6" cy="418.7" r="1.4" fill="#e2ddd5" fill-opacity="0.55"/><circle cx="154.4" cy="478.1" r="1.4" fill="#e2ddd5" fill-opacity="0.55"/><circle cx="250.3" cy="460.6" r="1.4" fill="#e2ddd5" fill-opacity="0.55"/><circle cx="184.6" cy="392.7" r="1.4" fill="#e2ddd5" fill-opacity="0.55"/><circle cx="148.3" cy="394.2" r="1.4" fill="#e2ddd5" fill-opacity="0.55"/><circle cx="201.9" cy="478.4" r="1.4" fill="#e2ddd5" fill-opacity="0.55"/><circle cx="242.1" cy="436.9" r="1.4" fill="#e2ddd5" fill-opacity="0.55"/><circle cx="166.3" cy="446.6" r="1.4" fill="#e2ddd5" fill-opacity="0.55"/><circle cx="197.3" cy="465.9" r="1.4" fill="#e2ddd5" fill-opacity="0.55"/><circle cx="259.6" cy="412.9" r="1.4" fill="#e2ddd5" fill-opacity="0.55"/><circle cx="253.1" cy="388.7" r="1.4" fill="#e2ddd5" fill-opacity="0.55"/><circle cx="123.8" cy="394.2" r="1.4" fill="#e2ddd5" fill-opacity="0.55"/><circle cx="133.2" cy="427.9" r="1.4" fill="#e2ddd5" fill-opacity="0.55"/><circle cx="271.0" cy="416.7" r="1.4" fill="#e2ddd5" fill-opacity="0.55"/><circle cx="249.5" cy="422.8" r="1.4" fill="#e2ddd5" fill-opacity="0.55"/><circle cx="198.4" cy="393.8" r="1.4" fill="#e2ddd5" fill-opacity="0.55"/><circle cx="276.3" cy="436.9" r="1.4" fill="#e2ddd5" fill-opacity="0.55"/><circle cx="167.3" cy="503.3" r="1.4" fill="#e2ddd5" fill-opacity="0.55"/><circle cx="201.1" cy="457.9" r="1.4" fill="#e2ddd5" fill-opacity="0.55"/><circle cx="181.6" cy="400.6" r="1.4" fill="#e2ddd5" fill-opacity="0.55"/><circle cx="118.6" cy="431.2" r="1.4" fill="#e2ddd5" fill-opacity="0.55"/><circle cx="265.2" cy="453.2" r="1.4" fill="#e2ddd5" fill-opacity="0.55"/><circle cx="180.4" cy="483.4" r="1.4" fill="#e2ddd5" fill-opacity="0.55"/><circle cx="146.5" cy="487.9" r="1.4" fill="#e2ddd5" fill-opacity="0.55"/><circle cx="189.0" cy="400.5" r="1.4" fill="#e2ddd5" fill-opacity="0.55"/><circle cx="229.2" cy="461.2" r="1.4" fill="#e2ddd5" fill-opacity="0.55"/><circle cx="168.7" cy="448.3" r="1.4" fill="#e2ddd5" fill-opacity="0.55"/><circle cx="234.9" cy="488.2" r="1.4" fill="#e2ddd5" fill-opacity="0.55"/><circle cx="162.7" cy="372.2" r="1.4" fill="#e2ddd5" fill-opacity="0.55"/><circle cx="273.6" cy="429.6" r="1.4" fill="#e2ddd5" fill-opacity="0.55"/></g>
<rect x="58.6" y="349.6" width="254.55" height="191.8" fill="none" stroke="#3a302c" stroke-opacity="0.12" stroke-width="1.2"/>
</svg>
<svg x="338" y="349" width="255.5" height="193" viewBox="338 349 255.5 193" overflow="hidden"><g><rect x="338" y="349" width="256" height="193" fill="#a09c96"/><rect x="338" y="349" width="256" height="193" fill="url(#gA4l)"/><rect x="338" y="349" width="256" height="193" fill="url(#gA4d)"/><rect x="338" y="349" width="256" height="193" fill="url(#gA4m)"/><circle cx="431.0" cy="472.4" r="1.3" fill="#6a6660" fill-opacity="0.35"/><circle cx="433.7" cy="504.8" r="1.3" fill="#6a6660" fill-opacity="0.35"/><circle cx="375.2" cy="433.7" r="1.3" fill="#6a6660" fill-opacity="0.35"/><circle cx="392.6" cy="512.7" r="1.3" fill="#6a6660" fill-opacity="0.35"/><circle cx="447.3" cy="508.1" r="1.3" fill="#6a6660" fill-opacity="0.35"/><circle cx="551.1" cy="389.3" r="1.3" fill="#6a6660" fill-opacity="0.35"/><circle cx="447.9" cy="489.7" r="1.3" fill="#6a6660" fill-opacity="0.35"/><circle cx="470.4" cy="436.1" r="1.3" fill="#6a6660" fill-opacity="0.35"/><circle cx="527.7" cy="495.9" r="1.3" fill="#6a6660" fill-opacity="0.35"/><circle cx="416.4" cy="436.4" r="1.3" fill="#6a6660" fill-opacity="0.35"/><circle cx="519.7" cy="458.3" r="1.3" fill="#6a6660" fill-opacity="0.35"/><circle cx="476.7" cy="380.7" r="1.3" fill="#6a6660" fill-opacity="0.35"/><circle cx="575.9" cy="434.1" r="1.3" fill="#6a6660" fill-opacity="0.35"/><circle cx="489.2" cy="442.7" r="1.3" fill="#6a6660" fill-opacity="0.35"/><circle cx="471.7" cy="455.0" r="1.3" fill="#6a6660" fill-opacity="0.35"/><circle cx="399.8" cy="467.8" r="1.3" fill="#6a6660" fill-opacity="0.35"/><circle cx="553.6" cy="467.2" r="1.3" fill="#6a6660" fill-opacity="0.35"/><circle cx="524.0" cy="474.5" r="1.3" fill="#6a6660" fill-opacity="0.35"/><circle cx="467.9" cy="530.1" r="1.3" fill="#6a6660" fill-opacity="0.35"/><circle cx="410.5" cy="468.8" r="1.3" fill="#6a6660" fill-opacity="0.35"/><circle cx="544.8" cy="462.0" r="1.3" fill="#6a6660" fill-opacity="0.35"/><circle cx="394.5" cy="388.9" r="1.3" fill="#6a6660" fill-opacity="0.35"/><circle cx="561.9" cy="400.4" r="1.3" fill="#6a6660" fill-opacity="0.35"/><circle cx="466.8" cy="480.0" r="1.3" fill="#6a6660" fill-opacity="0.35"/><circle cx="471.8" cy="360.7" r="1.3" fill="#6a6660" fill-opacity="0.35"/><circle cx="352.2" cy="440.2" r="1.3" fill="#6a6660" fill-opacity="0.35"/><circle cx="403.4" cy="428.9" r="1.3" fill="#6a6660" fill-opacity="0.35"/><circle cx="474.0" cy="455.8" r="1.3" fill="#6a6660" fill-opacity="0.35"/><circle cx="392.3" cy="374.6" r="1.3" fill="#6a6660" fill-opacity="0.35"/><circle cx="537.0" cy="408.9" r="1.3" fill="#6a6660" fill-opacity="0.35"/><circle cx="405.0" cy="366.1" r="1.3" fill="#6a6660" fill-opacity="0.35"/><circle cx="504.0" cy="377.1" r="1.3" fill="#6a6660" fill-opacity="0.35"/><circle cx="388.7" cy="480.0" r="1.3" fill="#6a6660" fill-opacity="0.35"/><circle cx="491.5" cy="480.7" r="1.3" fill="#6a6660" fill-opacity="0.35"/><circle cx="415.7" cy="358.4" r="1.3" fill="#6a6660" fill-opacity="0.35"/><circle cx="389.6" cy="427.3" r="1.3" fill="#6a6660" fill-opacity="0.35"/><circle cx="415.6" cy="496.4" r="1.3" fill="#6a6660" fill-opacity="0.35"/><circle cx="493.5" cy="384.6" r="1.3" fill="#6a6660" fill-opacity="0.35"/><circle cx="513.7" cy="435.5" r="1.3" fill="#6a6660" fill-opacity="0.35"/><circle cx="430.2" cy="508.0" r="1.3" fill="#6a6660" fill-opacity="0.35"/><circle cx="367.9" cy="491.1" r="1.3" fill="#6a6660" fill-opacity="0.35"/><circle cx="522.5" cy="364.0" r="1.3" fill="#6a6660" fill-opacity="0.35"/><circle cx="449.4" cy="434.2" r="1.3" fill="#6a6660" fill-opacity="0.35"/><circle cx="383.3" cy="413.2" r="1.3" fill="#6a6660" fill-opacity="0.35"/><circle cx="400.1" cy="448.9" r="1.3" fill="#6a6660" fill-opacity="0.35"/><circle cx="435.9" cy="357.2" r="1.3" fill="#6a6660" fill-opacity="0.35"/><circle cx="547.8" cy="491.6" r="1.3" fill="#6a6660" fill-opacity="0.35"/><circle cx="404.1" cy="494.3" r="1.3" fill="#6a6660" fill-opacity="0.35"/><circle cx="563.1" cy="388.3" r="1.3" fill="#6a6660" fill-opacity="0.35"/><circle cx="431.8" cy="412.1" r="1.3" fill="#6a6660" fill-opacity="0.35"/><circle cx="512.7" cy="425.7" r="1.3" fill="#6a6660" fill-opacity="0.35"/><circle cx="381.5" cy="502.9" r="1.3" fill="#6a6660" fill-opacity="0.35"/><circle cx="439.7" cy="490.2" r="1.3" fill="#6a6660" fill-opacity="0.35"/><circle cx="581.5" cy="416.4" r="1.3" fill="#6a6660" fill-opacity="0.35"/><circle cx="433.8" cy="499.3" r="1.3" fill="#6a6660" fill-opacity="0.35"/><circle cx="457.0" cy="478.8" r="1.3" fill="#6a6660" fill-opacity="0.35"/><circle cx="465.8" cy="539.1" r="1.3" fill="#6a6660" fill-opacity="0.35"/><circle cx="518.6" cy="466.8" r="1.3" fill="#6a6660" fill-opacity="0.35"/><circle cx="476.9" cy="470.5" r="1.3" fill="#6a6660" fill-opacity="0.35"/><circle cx="359.7" cy="431.6" r="1.3" fill="#6a6660" fill-opacity="0.35"/><circle cx="518.3" cy="380.8" r="1.3" fill="#6a6660" fill-opacity="0.35"/><circle cx="469.8" cy="438.7" r="1.3" fill="#6a6660" fill-opacity="0.35"/><circle cx="441.4" cy="536.2" r="1.3" fill="#6a6660" fill-opacity="0.35"/><circle cx="524.6" cy="465.8" r="1.3" fill="#6a6660" fill-opacity="0.35"/><circle cx="401.7" cy="450.3" r="1.3" fill="#6a6660" fill-opacity="0.35"/><circle cx="440.0" cy="439.1" r="1.3" fill="#6a6660" fill-opacity="0.35"/><circle cx="476.8" cy="537.6" r="1.3" fill="#6a6660" fill-opacity="0.35"/><circle cx="539.4" cy="516.2" r="1.3" fill="#6a6660" fill-opacity="0.35"/><circle cx="520.5" cy="530.1" r="1.3" fill="#6a6660" fill-opacity="0.35"/><circle cx="420.1" cy="377.0" r="1.3" fill="#6a6660" fill-opacity="0.35"/><circle cx="484.3" cy="462.3" r="1.3" fill="#6a6660" fill-opacity="0.35"/><circle cx="469.1" cy="405.2" r="1.3" fill="#6a6660" fill-opacity="0.35"/><circle cx="508.0" cy="525.0" r="1.3" fill="#6a6660" fill-opacity="0.35"/><circle cx="485.5" cy="430.1" r="1.3" fill="#6a6660" fill-opacity="0.35"/><circle cx="554.6" cy="428.0" r="1.3" fill="#6a6660" fill-opacity="0.35"/><circle cx="435.8" cy="465.9" r="1.3" fill="#6a6660" fill-opacity="0.35"/><circle cx="370.4" cy="505.2" r="1.3" fill="#6a6660" fill-opacity="0.35"/><circle cx="457.3" cy="478.8" r="1.3" fill="#6a6660" fill-opacity="0.35"/><circle cx="493.2" cy="471.8" r="1.3" fill="#6a6660" fill-opacity="0.35"/><circle cx="394.3" cy="517.7" r="1.3" fill="#6a6660" fill-opacity="0.35"/><circle cx="463.7" cy="385.5" r="8" fill="#cbc5bd" stroke="#77716b" stroke-width="2.5"/><circle cx="463.7" cy="386" r="3" fill="#9a948d"/><circle cx="396.8" cy="459.5" r="8" fill="#cbc5bd" stroke="#77716b" stroke-width="2.5"/><circle cx="397.5" cy="460" r="3" fill="#e8e3dc"/><ellipse cx="498" cy="481" rx="9" ry="6.5" fill="#9d978f" transform="rotate(-20 498 481)"/><ellipse cx="496" cy="482" rx="6.5" ry="4.5" fill="#4d4844" transform="rotate(-20 498 481)"/></g><path d="M463.7,416 L470.1,416 L470.1,449.4 L463.7,449.4 Z M457.6,417 L465.7,400.7 L474.2,417 Z" fill="#fff"/><path d="M395.2,488 L401.8,488 L401.8,521.4 L395.2,521.4 Z M389.7,489 L397.4,472.7 L405.9,489 Z" fill="#fff"/><path d="M496.7,510 L502.6,510 L502.6,545 L496.7,545 Z M491,511.3 L499.1,494 L507.2,511.3 Z" fill="#fff"/><rect x="338.6" y="349.6" width="254.3" height="191.8" fill="none" stroke="#3a302c" stroke-opacity="0.12" stroke-width="1.2"/></svg>
<svg x="706.5" y="60" width="255.5" height="189" viewBox="706.5 60 255.5 189" overflow="hidden">
<g><rect x="706.5" y="60" width="255.5" height="189" fill="url(#gB1)"/>
<circle cx="861.5" cy="169.3" r="1.3" fill="#e4e0d8" fill-opacity="0.6"/><circle cx="898.3" cy="127.7" r="1.3" fill="#e4e0d8" fill-opacity="0.6"/><circle cx="869.3" cy="148.2" r="1.3" fill="#e4e0d8" fill-opacity="0.6"/><circle cx="779.5" cy="205.7" r="1.3" fill="#e4e0d8" fill-opacity="0.6"/><circle cx="759.6" cy="158.4" r="1.3" fill="#e4e0d8" fill-opacity="0.6"/><circle cx="816.0" cy="173.7" r="1.3" fill="#e4e0d8" fill-opacity="0.6"/><circle cx="787.4" cy="202.3" r="1.3" fill="#e4e0d8" fill-opacity="0.6"/><circle cx="838.1" cy="101.1" r="1.3" fill="#e4e0d8" fill-opacity="0.6"/><circle cx="768.1" cy="164.6" r="1.3" fill="#e4e0d8" fill-opacity="0.6"/><circle cx="770.6" cy="171.3" r="1.3" fill="#e4e0d8" fill-opacity="0.6"/><circle cx="846.3" cy="122.2" r="1.3" fill="#e4e0d8" fill-opacity="0.6"/><circle cx="763.3" cy="116.2" r="1.3" fill="#e4e0d8" fill-opacity="0.6"/><circle cx="848.7" cy="125.1" r="1.3" fill="#e4e0d8" fill-opacity="0.6"/><circle cx="896.2" cy="138.7" r="1.3" fill="#e4e0d8" fill-opacity="0.6"/><circle cx="848.2" cy="187.1" r="1.3" fill="#e4e0d8" fill-opacity="0.6"/><circle cx="834.6" cy="177.2" r="1.3" fill="#e4e0d8" fill-opacity="0.6"/><circle cx="878.6" cy="146.7" r="1.3" fill="#e4e0d8" fill-opacity="0.6"/><circle cx="850.0" cy="131.5" r="1.3" fill="#e4e0d8" fill-opacity="0.6"/><circle cx="899.0" cy="158.6" r="1.3" fill="#e4e0d8" fill-opacity="0.6"/><circle cx="847.2" cy="87.8" r="1.3" fill="#e4e0d8" fill-opacity="0.6"/><circle cx="802.8" cy="105.9" r="1.3" fill="#e4e0d8" fill-opacity="0.6"/><circle cx="829.3" cy="124.8" r="1.3" fill="#e4e0d8" fill-opacity="0.6"/><circle cx="773.1" cy="141.0" r="1.3" fill="#e4e0d8" fill-opacity="0.6"/><circle cx="863.7" cy="196.1" r="1.3" fill="#e4e0d8" fill-opacity="0.6"/><circle cx="800.3" cy="198.2" r="1.3" fill="#e4e0d8" fill-opacity="0.6"/><circle cx="792.3" cy="182.9" r="1.3" fill="#e4e0d8" fill-opacity="0.6"/><circle cx="786.8" cy="195.2" r="1.3" fill="#e4e0d8" fill-opacity="0.6"/><circle cx="901.1" cy="144.9" r="1.3" fill="#e4e0d8" fill-opacity="0.6"/><circle cx="872.6" cy="105.2" r="1.3" fill="#e4e0d8" fill-opacity="0.6"/><circle cx="808.3" cy="218.5" r="1.3" fill="#e4e0d8" fill-opacity="0.6"/><circle cx="821.7" cy="183.3" r="1.3" fill="#e4e0d8" fill-opacity="0.6"/><circle cx="758.2" cy="152.7" r="1.3" fill="#e4e0d8" fill-opacity="0.6"/><circle cx="791.3" cy="200.1" r="1.3" fill="#e4e0d8" fill-opacity="0.6"/><circle cx="810.5" cy="218.6" r="1.3" fill="#e4e0d8" fill-opacity="0.6"/><circle cx="771.9" cy="167.4" r="1.3" fill="#e4e0d8" fill-opacity="0.6"/><circle cx="754.0" cy="140.4" r="1.3" fill="#e4e0d8" fill-opacity="0.6"/><circle cx="884.7" cy="148.7" r="1.3" fill="#e4e0d8" fill-opacity="0.6"/><circle cx="767.2" cy="172.7" r="1.3" fill="#e4e0d8" fill-opacity="0.6"/><circle cx="874.9" cy="172.8" r="1.3" fill="#e4e0d8" fill-opacity="0.6"/><circle cx="866.0" cy="103.3" r="1.3" fill="#e4e0d8" fill-opacity="0.6"/><circle cx="893.7" cy="176.1" r="1.3" fill="#e4e0d8" fill-opacity="0.6"/><circle cx="768.3" cy="197.9" r="1.3" fill="#e4e0d8" fill-opacity="0.6"/><circle cx="798.1" cy="180.0" r="1.3" fill="#e4e0d8" fill-opacity="0.6"/><circle cx="755.7" cy="133.6" r="1.3" fill="#e4e0d8" fill-opacity="0.6"/><circle cx="759.6" cy="179.8" r="1.3" fill="#e4e0d8" fill-opacity="0.6"/><circle cx="813.9" cy="110.3" r="1.3" fill="#e4e0d8" fill-opacity="0.6"/><circle cx="807.9" cy="200.9" r="1.3" fill="#e4e0d8" fill-opacity="0.6"/><circle cx="784.9" cy="179.4" r="1.3" fill="#e4e0d8" fill-opacity="0.6"/><circle cx="783.5" cy="100.8" r="1.3" fill="#e4e0d8" fill-opacity="0.6"/><circle cx="794.2" cy="136.8" r="1.3" fill="#e4e0d8" fill-opacity="0.6"/><circle cx="835.6" cy="196.7" r="1.3" fill="#e4e0d8" fill-opacity="0.6"/><circle cx="798.7" cy="132.1" r="1.3" fill="#e4e0d8" fill-opacity="0.6"/><circle cx="868.0" cy="173.6" r="1.3" fill="#e4e0d8" fill-opacity="0.6"/><circle cx="820.5" cy="175.7" r="1.3" fill="#e4e0d8" fill-opacity="0.6"/><circle cx="753.1" cy="137.2" r="1.3" fill="#e4e0d8" fill-opacity="0.6"/><circle cx="703.5" cy="131.9" r="1.1" fill="#8a867e" fill-opacity="0.3"/><circle cx="888.1" cy="62.2" r="1.1" fill="#8a867e" fill-opacity="0.3"/><circle cx="917.2" cy="109.4" r="1.1" fill="#8a867e" fill-opacity="0.3"/><circle cx="792.3" cy="94.5" r="1.1" fill="#8a867e" fill-opacity="0.3"/><circle cx="900.5" cy="98.0" r="1.1" fill="#8a867e" fill-opacity="0.3"/><circle cx="693.5" cy="169.3" r="1.1" fill="#8a867e" fill-opacity="0.3"/><circle cx="805.9" cy="220.1" r="1.1" fill="#8a867e" fill-opacity="0.3"/><circle cx="878.2" cy="70.7" r="1.1" fill="#8a867e" fill-opacity="0.3"/><circle cx="888.8" cy="182.1" r="1.1" fill="#8a867e" fill-opacity="0.3"/><circle cx="783.9" cy="197.7" r="1.1" fill="#8a867e" fill-opacity="0.3"/><circle cx="869.2" cy="93.5" r="1.1" fill="#8a867e" fill-opacity="0.3"/><circle cx="810.4" cy="233.0" r="1.1" fill="#8a867e" fill-opacity="0.3"/><circle cx="720.2" cy="146.9" r="1.1" fill="#8a867e" fill-opacity="0.3"/><circle cx="742.5" cy="84.3" r="1.1" fill="#8a867e" fill-opacity="0.3"/><circle cx="752.8" cy="177.4" r="1.1" fill="#8a867e" fill-opacity="0.3"/><circle cx="947.7" cy="140.4" r="1.1" fill="#8a867e" fill-opacity="0.3"/><circle cx="918.4" cy="195.0" r="1.1" fill="#8a867e" fill-opacity="0.3"/><circle cx="829.1" cy="43.4" r="1.1" fill="#8a867e" fill-opacity="0.3"/><circle cx="891.0" cy="175.5" r="1.1" fill="#8a867e" fill-opacity="0.3"/><circle cx="721.5" cy="163.4" r="1.1" fill="#8a867e" fill-opacity="0.3"/><circle cx="928.9" cy="89.8" r="1.1" fill="#8a867e" fill-opacity="0.3"/><circle cx="774.4" cy="225.0" r="1.1" fill="#8a867e" fill-opacity="0.3"/><circle cx="709.9" cy="100.7" r="1.1" fill="#8a867e" fill-opacity="0.3"/><circle cx="856.7" cy="230.5" r="1.1" fill="#8a867e" fill-opacity="0.3"/><circle cx="927.7" cy="202.6" r="1.1" fill="#8a867e" fill-opacity="0.3"/><circle cx="960.7" cy="170.8" r="1.1" fill="#8a867e" fill-opacity="0.3"/><circle cx="711.8" cy="139.5" r="1.1" fill="#8a867e" fill-opacity="0.3"/><circle cx="904.4" cy="189.6" r="1.1" fill="#8a867e" fill-opacity="0.3"/><circle cx="696.2" cy="173.3" r="1.1" fill="#8a867e" fill-opacity="0.3"/><circle cx="733.5" cy="134.8" r="1.1" fill="#8a867e" fill-opacity="0.3"/><circle cx="946.2" cy="142.3" r="1.1" fill="#8a867e" fill-opacity="0.3"/><circle cx="738.7" cy="140.6" r="1.1" fill="#8a867e" fill-opacity="0.3"/><circle cx="785.6" cy="253.9" r="1.1" fill="#8a867e" fill-opacity="0.3"/><circle cx="901.7" cy="218.7" r="1.1" fill="#8a867e" fill-opacity="0.3"/><circle cx="752.7" cy="98.9" r="1.1" fill="#8a867e" fill-opacity="0.3"/><circle cx="841.9" cy="47.5" r="1.1" fill="#8a867e" fill-opacity="0.3"/><circle cx="904.5" cy="76.1" r="1.1" fill="#8a867e" fill-opacity="0.3"/><circle cx="847.9" cy="210.2" r="1.1" fill="#8a867e" fill-opacity="0.3"/><circle cx="737.1" cy="184.4" r="1.1" fill="#8a867e" fill-opacity="0.3"/><circle cx="871.9" cy="251.1" r="1.1" fill="#8a867e" fill-opacity="0.3"/><circle cx="853.6" cy="253.1" r="1.1" fill="#8a867e" fill-opacity="0.3"/><circle cx="901.4" cy="128.5" r="1.1" fill="#8a867e" fill-opacity="0.3"/><circle cx="914.7" cy="110.9" r="1.1" fill="#8a867e" fill-opacity="0.3"/><circle cx="846.7" cy="219.7" r="1.1" fill="#8a867e" fill-opacity="0.3"/><circle cx="933.5" cy="173.4" r="1.1" fill="#8a867e" fill-opacity="0.3"/><circle cx="727.4" cy="221.9" r="1.1" fill="#8a867e" fill-opacity="0.3"/><circle cx="863.7" cy="101.4" r="1.1" fill="#8a867e" fill-opacity="0.3"/><circle cx="742.1" cy="200.1" r="1.1" fill="#8a867e" fill-opacity="0.3"/><circle cx="866.7" cy="218.4" r="1.1" fill="#8a867e" fill-opacity="0.3"/><circle cx="815.7" cy="249.2" r="1.1" fill="#8a867e" fill-opacity="0.3"/><circle cx="782.6" cy="206.6" r="1.1" fill="#8a867e" fill-opacity="0.3"/><circle cx="845.7" cy="235.4" r="1.1" fill="#8a867e" fill-opacity="0.3"/><circle cx="741.3" cy="124.3" r="1.1" fill="#8a867e" fill-opacity="0.3"/><circle cx="798.0" cy="85.9" r="1.1" fill="#8a867e" fill-opacity="0.3"/><circle cx="769.8" cy="71.7" r="1.1" fill="#8a867e" fill-opacity="0.3"/><circle cx="882.8" cy="241.6" r="1.1" fill="#8a867e" fill-opacity="0.3"/><circle cx="736.8" cy="207.9" r="1.1" fill="#8a867e" fill-opacity="0.3"/><circle cx="728.9" cy="99.2" r="1.1" fill="#8a867e" fill-opacity="0.3"/><circle cx="755.3" cy="174.1" r="1.1" fill="#8a867e" fill-opacity="0.3"/><circle cx="856.3" cy="51.7" r="1.1" fill="#8a867e" fill-opacity="0.3"/><circle cx="710.4" cy="158.6" r="1.1" fill="#8a867e" fill-opacity="0.3"/><circle cx="810.4" cy="258.0" r="1.1" fill="#8a867e" fill-opacity="0.3"/><circle cx="790.5" cy="87.7" r="1.1" fill="#8a867e" fill-opacity="0.3"/><circle cx="883.3" cy="53.3" r="1.1" fill="#8a867e" fill-opacity="0.3"/><circle cx="746.7" cy="243.5" r="1.1" fill="#8a867e" fill-opacity="0.3"/><circle cx="739.7" cy="160.2" r="1.1" fill="#8a867e" fill-opacity="0.3"/><circle cx="805.5" cy="76.6" r="1.1" fill="#8a867e" fill-opacity="0.3"/><circle cx="813.1" cy="62.3" r="1.1" fill="#8a867e" fill-opacity="0.3"/><circle cx="913.8" cy="208.3" r="1.1" fill="#8a867e" fill-opacity="0.3"/><circle cx="890.6" cy="83.9" r="1.1" fill="#8a867e" fill-opacity="0.3"/></g>
<rect x="707.1" y="60.6" width="254.3" height="187.8" fill="none" stroke="#3a302c" stroke-opacity="0.12" stroke-width="1.2"/>
</svg>
<svg x="988" y="60" width="254" height="189" viewBox="988 60 254 189" overflow="hidden">
<g><rect x="988" y="60" width="254" height="189" fill="url(#gB2)"/>
<circle cx="981.9" cy="108.9" r="1.3" fill="#ddd6d2" fill-opacity="0.6"/><circle cx="1017.6" cy="161.6" r="1.3" fill="#ddd6d2" fill-opacity="0.6"/><circle cx="998.9" cy="83.1" r="1.3" fill="#ddd6d2" fill-opacity="0.6"/><circle cx="1130.3" cy="168.7" r="1.3" fill="#ddd6d2" fill-opacity="0.6"/><circle cx="1124.8" cy="49.7" r="1.3" fill="#ddd6d2" fill-opacity="0.6"/><circle cx="1070.9" cy="237.7" r="1.3" fill="#ddd6d2" fill-opacity="0.6"/><circle cx="1199.6" cy="78.9" r="1.3" fill="#ddd6d2" fill-opacity="0.6"/><circle cx="1253.8" cy="127.4" r="1.3" fill="#ddd6d2" fill-opacity="0.6"/><circle cx="1116.0" cy="72.9" r="1.3" fill="#ddd6d2" fill-opacity="0.6"/><circle cx="1240.3" cy="141.4" r="1.3" fill="#ddd6d2" fill-opacity="0.6"/><circle cx="1108.7" cy="67.2" r="1.3" fill="#ddd6d2" fill-opacity="0.6"/><circle cx="1005.0" cy="146.5" r="1.3" fill="#ddd6d2" fill-opacity="0.6"/><circle cx="1117.1" cy="231.1" r="1.3" fill="#ddd6d2" fill-opacity="0.6"/><circle cx="1031.0" cy="107.7" r="1.3" fill="#ddd6d2" fill-opacity="0.6"/><circle cx="1203.2" cy="189.4" r="1.3" fill="#ddd6d2" fill-opacity="0.6"/><circle cx="1062.9" cy="223.7" r="1.3" fill="#ddd6d2" fill-opacity="0.6"/><circle cx="1161.1" cy="198.8" r="1.3" fill="#ddd6d2" fill-opacity="0.6"/><circle cx="1148.8" cy="204.3" r="1.3" fill="#ddd6d2" fill-opacity="0.6"/><circle cx="1073.5" cy="117.6" r="1.3" fill="#ddd6d2" fill-opacity="0.6"/><circle cx="1215.1" cy="162.0" r="1.3" fill="#ddd6d2" fill-opacity="0.6"/><circle cx="1149.0" cy="213.0" r="1.3" fill="#ddd6d2" fill-opacity="0.6"/><circle cx="1140.7" cy="166.7" r="1.3" fill="#ddd6d2" fill-opacity="0.6"/><circle cx="976.9" cy="109.2" r="1.3" fill="#ddd6d2" fill-opacity="0.6"/><circle cx="1190.0" cy="74.3" r="1.3" fill="#ddd6d2" fill-opacity="0.6"/><circle cx="1086.2" cy="152.8" r="1.3" fill="#ddd6d2" fill-opacity="0.6"/><circle cx="1103.1" cy="198.6" r="1.3" fill="#ddd6d2" fill-opacity="0.6"/><circle cx="1164.9" cy="120.9" r="1.3" fill="#ddd6d2" fill-opacity="0.6"/><circle cx="1215.1" cy="109.5" r="1.3" fill="#ddd6d2" fill-opacity="0.6"/><circle cx="1046.7" cy="158.7" r="1.3" fill="#ddd6d2" fill-opacity="0.6"/><circle cx="1179.9" cy="123.4" r="1.3" fill="#ddd6d2" fill-opacity="0.6"/><circle cx="1020.4" cy="99.4" r="1.3" fill="#ddd6d2" fill-opacity="0.6"/><circle cx="1139.1" cy="186.6" r="1.3" fill="#ddd6d2" fill-opacity="0.6"/><circle cx="1249.8" cy="125.6" r="1.3" fill="#ddd6d2" fill-opacity="0.6"/><circle cx="1102.2" cy="26.3" r="1.3" fill="#ddd6d2" fill-opacity="0.6"/><circle cx="1219.5" cy="191.0" r="1.3" fill="#ddd6d2" fill-opacity="0.6"/><circle cx="1117.2" cy="80.4" r="1.3" fill="#ddd6d2" fill-opacity="0.6"/><circle cx="974.3" cy="165.3" r="1.3" fill="#ddd6d2" fill-opacity="0.6"/><circle cx="1056.2" cy="224.0" r="1.3" fill="#ddd6d2" fill-opacity="0.6"/><circle cx="1179.2" cy="215.9" r="1.3" fill="#ddd6d2" fill-opacity="0.6"/><circle cx="1104.0" cy="216.4" r="1.3" fill="#ddd6d2" fill-opacity="0.6"/><circle cx="1019.7" cy="212.1" r="1.3" fill="#ddd6d2" fill-opacity="0.6"/><circle cx="1113.6" cy="53.4" r="1.3" fill="#ddd6d2" fill-opacity="0.6"/><circle cx="1079.3" cy="65.6" r="1.3" fill="#ddd6d2" fill-opacity="0.6"/><circle cx="1142.5" cy="80.0" r="1.3" fill="#ddd6d2" fill-opacity="0.6"/><circle cx="1006.6" cy="110.9" r="1.3" fill="#ddd6d2" fill-opacity="0.6"/><circle cx="1092.3" cy="151.1" r="1.3" fill="#ddd6d2" fill-opacity="0.6"/><circle cx="1174.9" cy="215.6" r="1.3" fill="#ddd6d2" fill-opacity="0.6"/><circle cx="1148.4" cy="232.2" r="1.3" fill="#ddd6d2" fill-opacity="0.6"/><circle cx="970.6" cy="131.5" r="1.3" fill="#ddd6d2" fill-opacity="0.6"/><circle cx="1190.8" cy="54.9" r="1.3" fill="#ddd6d2" fill-opacity="0.6"/><circle cx="1095.2" cy="152.2" r="1.3" fill="#ddd6d2" fill-opacity="0.6"/><circle cx="995.6" cy="100.4" r="1.3" fill="#ddd6d2" fill-opacity="0.6"/><circle cx="1176.4" cy="110.4" r="1.3" fill="#ddd6d2" fill-opacity="0.6"/><circle cx="1197.8" cy="230.5" r="1.3" fill="#ddd6d2" fill-opacity="0.6"/><circle cx="1110.1" cy="55.1" r="1.3" fill="#ddd6d2" fill-opacity="0.6"/><circle cx="1112.8" cy="90.7" r="1.3" fill="#ddd6d2" fill-opacity="0.6"/><circle cx="999.0" cy="109.3" r="1.3" fill="#ddd6d2" fill-opacity="0.6"/><circle cx="1069.1" cy="107.0" r="1.3" fill="#ddd6d2" fill-opacity="0.6"/><circle cx="1194.4" cy="203.9" r="1.3" fill="#ddd6d2" fill-opacity="0.6"/><circle cx="1158.7" cy="106.6" r="1.3" fill="#ddd6d2" fill-opacity="0.6"/><circle cx="1160.1" cy="136.5" r="1.3" fill="#ddd6d2" fill-opacity="0.6"/><circle cx="1137.6" cy="64.9" r="1.3" fill="#ddd6d2" fill-opacity="0.6"/><circle cx="973.2" cy="166.4" r="1.3" fill="#ddd6d2" fill-opacity="0.6"/><circle cx="1058.0" cy="97.1" r="1.3" fill="#ddd6d2" fill-opacity="0.6"/><circle cx="1115.0" cy="130.1" r="1.3" fill="#ddd6d2" fill-opacity="0.6"/><circle cx="1092.3" cy="229.2" r="1.3" fill="#ddd6d2" fill-opacity="0.6"/><circle cx="1129.9" cy="153.3" r="1.3" fill="#ddd6d2" fill-opacity="0.6"/><circle cx="1031.7" cy="127.5" r="1.3" fill="#ddd6d2" fill-opacity="0.6"/><circle cx="1164.0" cy="128.4" r="1.3" fill="#ddd6d2" fill-opacity="0.6"/><circle cx="1147.1" cy="67.1" r="1.3" fill="#ddd6d2" fill-opacity="0.6"/><circle cx="1151.1" cy="62.9" r="1.3" fill="#ddd6d2" fill-opacity="0.6"/><circle cx="1074.5" cy="77.9" r="1.3" fill="#ddd6d2" fill-opacity="0.6"/><circle cx="1133.0" cy="211.4" r="1.3" fill="#ddd6d2" fill-opacity="0.6"/><circle cx="1144.3" cy="70.8" r="1.3" fill="#ddd6d2" fill-opacity="0.6"/><circle cx="1129.2" cy="208.6" r="1.3" fill="#ddd6d2" fill-opacity="0.6"/><circle cx="1186.4" cy="171.6" r="1.3" fill="#ddd6d2" fill-opacity="0.6"/><circle cx="1017.6" cy="97.5" r="1.3" fill="#ddd6d2" fill-opacity="0.6"/><circle cx="1050.9" cy="99.4" r="1.3" fill="#ddd6d2" fill-opacity="0.6"/><circle cx="1141.1" cy="137.9" r="1.3" fill="#ddd6d2" fill-opacity="0.6"/><circle cx="1081.7" cy="178.2" r="1.3" fill="#ddd6d2" fill-opacity="0.6"/></g>
<rect x="988.6" y="60.6" width="252.8" height="187.8" fill="none" stroke="#3a302c" stroke-opacity="0.12" stroke-width="1.2"/>
</svg>
<svg x="706" y="352.7" width="256" height="191.00000000000006" viewBox="706 352.7 256 191.00000000000006" overflow="hidden">
<g><rect x="706" y="352.7" width="256" height="191.00000000000006" fill="url(#gB3)"/>
<circle cx="766.0" cy="408.1" r="1.7" fill="#57534c" fill-opacity="0.35"/><circle cx="850.9" cy="344.2" r="1.7" fill="#57534c" fill-opacity="0.35"/><circle cx="773.9" cy="350.0" r="1.7" fill="#57534c" fill-opacity="0.35"/><circle cx="740.9" cy="424.4" r="1.7" fill="#57534c" fill-opacity="0.35"/><circle cx="823.2" cy="472.4" r="1.7" fill="#57534c" fill-opacity="0.35"/><circle cx="872.1" cy="354.4" r="1.7" fill="#57534c" fill-opacity="0.35"/><circle cx="959.3" cy="500.1" r="1.7" fill="#57534c" fill-opacity="0.35"/><circle cx="737.0" cy="389.4" r="1.7" fill="#57534c" fill-opacity="0.35"/><circle cx="782.9" cy="453.4" r="1.7" fill="#57534c" fill-opacity="0.35"/><circle cx="912.4" cy="434.8" r="1.7" fill="#57534c" fill-opacity="0.35"/><circle cx="742.0" cy="520.6" r="1.7" fill="#57534c" fill-opacity="0.35"/><circle cx="920.7" cy="493.2" r="1.7" fill="#57534c" fill-opacity="0.35"/><circle cx="761.2" cy="443.0" r="1.7" fill="#57534c" fill-opacity="0.35"/><circle cx="931.6" cy="399.8" r="1.7" fill="#57534c" fill-opacity="0.35"/><circle cx="948.5" cy="441.0" r="1.7" fill="#57534c" fill-opacity="0.35"/><circle cx="969.8" cy="437.9" r="1.7" fill="#57534c" fill-opacity="0.35"/><circle cx="939.4" cy="354.5" r="1.7" fill="#57534c" fill-opacity="0.35"/><circle cx="961.5" cy="463.4" r="1.7" fill="#57534c" fill-opacity="0.35"/><circle cx="806.0" cy="512.0" r="1.7" fill="#57534c" fill-opacity="0.35"/><circle cx="814.4" cy="499.5" r="1.7" fill="#57534c" fill-opacity="0.35"/><circle cx="923.2" cy="503.6" r="1.7" fill="#57534c" fill-opacity="0.35"/><circle cx="967.2" cy="494.7" r="1.7" fill="#57534c" fill-opacity="0.35"/><circle cx="983.9" cy="465.7" r="1.7" fill="#57534c" fill-opacity="0.35"/><circle cx="862.2" cy="475.3" r="1.7" fill="#57534c" fill-opacity="0.35"/><circle cx="838.3" cy="349.0" r="1.7" fill="#57534c" fill-opacity="0.35"/><circle cx="855.1" cy="351.2" r="1.7" fill="#57534c" fill-opacity="0.35"/><circle cx="803.7" cy="403.5" r="1.7" fill="#57534c" fill-opacity="0.35"/><circle cx="791.1" cy="359.8" r="1.7" fill="#57534c" fill-opacity="0.35"/><circle cx="880.1" cy="427.9" r="1.7" fill="#57534c" fill-opacity="0.35"/><circle cx="955.8" cy="474.9" r="1.7" fill="#57534c" fill-opacity="0.35"/><circle cx="932.8" cy="400.2" r="1.7" fill="#57534c" fill-opacity="0.35"/><circle cx="814.1" cy="349.5" r="1.7" fill="#57534c" fill-opacity="0.35"/><circle cx="760.0" cy="486.4" r="1.7" fill="#57534c" fill-opacity="0.35"/><circle cx="806.0" cy="414.5" r="1.7" fill="#57534c" fill-opacity="0.35"/><circle cx="797.4" cy="528.8" r="1.7" fill="#57534c" fill-opacity="0.35"/><circle cx="836.6" cy="516.7" r="1.7" fill="#57534c" fill-opacity="0.35"/><circle cx="838.0" cy="507.5" r="1.7" fill="#57534c" fill-opacity="0.35"/><circle cx="765.5" cy="353.7" r="1.7" fill="#57534c" fill-opacity="0.35"/><circle cx="945.2" cy="413.0" r="1.7" fill="#57534c" fill-opacity="0.35"/><circle cx="869.0" cy="502.6" r="1.7" fill="#57534c" fill-opacity="0.35"/><circle cx="917.0" cy="457.1" r="1.7" fill="#57534c" fill-opacity="0.35"/><circle cx="738.9" cy="388.6" r="1.7" fill="#57534c" fill-opacity="0.35"/><circle cx="845.9" cy="490.4" r="1.7" fill="#57534c" fill-opacity="0.35"/><circle cx="900.7" cy="466.9" r="1.7" fill="#57534c" fill-opacity="0.35"/><circle cx="759.6" cy="434.4" r="1.7" fill="#57534c" fill-opacity="0.35"/><circle cx="928.0" cy="375.9" r="1.7" fill="#57534c" fill-opacity="0.35"/><circle cx="787.0" cy="501.3" r="1.7" fill="#57534c" fill-opacity="0.35"/><circle cx="967.8" cy="459.8" r="1.7" fill="#57534c" fill-opacity="0.35"/><circle cx="842.7" cy="362.0" r="1.7" fill="#57534c" fill-opacity="0.35"/><circle cx="829.0" cy="370.9" r="1.7" fill="#57534c" fill-opacity="0.35"/><circle cx="857.0" cy="494.4" r="1.7" fill="#57534c" fill-opacity="0.35"/><circle cx="881.2" cy="521.2" r="1.7" fill="#57534c" fill-opacity="0.35"/><circle cx="760.8" cy="357.7" r="1.7" fill="#57534c" fill-opacity="0.35"/><circle cx="947.4" cy="496.7" r="1.7" fill="#57534c" fill-opacity="0.35"/><circle cx="746.0" cy="445.1" r="1.7" fill="#57534c" fill-opacity="0.35"/><circle cx="739.4" cy="433.5" r="1.7" fill="#57534c" fill-opacity="0.35"/><circle cx="872.4" cy="507.0" r="1.7" fill="#57534c" fill-opacity="0.35"/><circle cx="764.0" cy="356.8" r="1.7" fill="#57534c" fill-opacity="0.35"/><circle cx="905.9" cy="406.0" r="1.7" fill="#57534c" fill-opacity="0.35"/><circle cx="946.7" cy="369.4" r="1.7" fill="#57534c" fill-opacity="0.35"/><circle cx="807.7" cy="324.2" r="1.7" fill="#57534c" fill-opacity="0.35"/><circle cx="928.4" cy="512.9" r="1.7" fill="#57534c" fill-opacity="0.35"/><circle cx="892.9" cy="406.4" r="1.7" fill="#57534c" fill-opacity="0.35"/><circle cx="720.9" cy="372.2" r="1.7" fill="#57534c" fill-opacity="0.35"/><circle cx="804.8" cy="538.0" r="1.7" fill="#57534c" fill-opacity="0.35"/><circle cx="927.6" cy="391.2" r="1.7" fill="#57534c" fill-opacity="0.35"/><circle cx="889.2" cy="481.8" r="1.7" fill="#57534c" fill-opacity="0.35"/><circle cx="890.8" cy="366.7" r="1.7" fill="#57534c" fill-opacity="0.35"/><circle cx="800.4" cy="507.8" r="1.7" fill="#57534c" fill-opacity="0.35"/><circle cx="916.0" cy="407.5" r="1.7" fill="#57534c" fill-opacity="0.35"/><circle cx="987.4" cy="447.9" r="1.7" fill="#57534c" fill-opacity="0.35"/><circle cx="802.1" cy="503.4" r="1.7" fill="#57534c" fill-opacity="0.35"/><circle cx="926.8" cy="425.1" r="1.7" fill="#57534c" fill-opacity="0.35"/><circle cx="963.8" cy="490.8" r="1.7" fill="#57534c" fill-opacity="0.35"/><circle cx="845.0" cy="494.7" r="1.7" fill="#57534c" fill-opacity="0.35"/><circle cx="915.0" cy="411.9" r="1.7" fill="#57534c" fill-opacity="0.35"/><circle cx="916.7" cy="394.0" r="1.7" fill="#57534c" fill-opacity="0.35"/><circle cx="816.7" cy="490.9" r="1.7" fill="#57534c" fill-opacity="0.35"/><circle cx="731.1" cy="411.8" r="1.7" fill="#57534c" fill-opacity="0.35"/><circle cx="753.7" cy="485.3" r="1.7" fill="#57534c" fill-opacity="0.35"/><circle cx="800.9" cy="536.1" r="1.7" fill="#57534c" fill-opacity="0.35"/><circle cx="962.3" cy="394.3" r="1.7" fill="#57534c" fill-opacity="0.35"/><circle cx="864.9" cy="397.6" r="1.7" fill="#57534c" fill-opacity="0.35"/><circle cx="841.8" cy="492.9" r="1.7" fill="#57534c" fill-opacity="0.35"/><circle cx="925.2" cy="528.6" r="1.7" fill="#57534c" fill-opacity="0.35"/><circle cx="961.1" cy="373.2" r="1.7" fill="#57534c" fill-opacity="0.35"/><circle cx="783.9" cy="418.1" r="1.7" fill="#57534c" fill-opacity="0.35"/><circle cx="796.3" cy="452.3" r="1.7" fill="#57534c" fill-opacity="0.35"/><circle cx="911.1" cy="398.8" r="1.7" fill="#57534c" fill-opacity="0.35"/><circle cx="807.3" cy="543.8" r="1.7" fill="#57534c" fill-opacity="0.35"/><circle cx="886.2" cy="540.4" r="1.7" fill="#57534c" fill-opacity="0.35"/><circle cx="795.4" cy="523.3" r="1.7" fill="#57534c" fill-opacity="0.35"/><circle cx="953.8" cy="503.0" r="1.7" fill="#57534c" fill-opacity="0.35"/><circle cx="767.1" cy="477.5" r="1.7" fill="#57534c" fill-opacity="0.35"/><circle cx="775.3" cy="360.4" r="1.7" fill="#57534c" fill-opacity="0.35"/><circle cx="841.6" cy="483.6" r="1.7" fill="#57534c" fill-opacity="0.35"/><circle cx="802.9" cy="419.6" r="1.7" fill="#57534c" fill-opacity="0.35"/><circle cx="906.3" cy="383.4" r="1.7" fill="#57534c" fill-opacity="0.35"/><circle cx="886.2" cy="496.2" r="1.7" fill="#57534c" fill-opacity="0.35"/><circle cx="909.9" cy="480.2" r="1.7" fill="#57534c" fill-opacity="0.35"/><circle cx="745.7" cy="414.4" r="1.7" fill="#57534c" fill-opacity="0.35"/><circle cx="798.2" cy="492.5" r="1.7" fill="#57534c" fill-opacity="0.35"/><circle cx="708.9" cy="443.7" r="1.7" fill="#57534c" fill-opacity="0.35"/><circle cx="719.3" cy="473.8" r="1.7" fill="#57534c" fill-opacity="0.35"/><circle cx="779.6" cy="440.2" r="1.7" fill="#57534c" fill-opacity="0.35"/><circle cx="908.7" cy="528.4" r="1.7" fill="#57534c" fill-opacity="0.35"/><circle cx="745.5" cy="444.7" r="1.7" fill="#57534c" fill-opacity="0.35"/><circle cx="703.9" cy="424.6" r="1.7" fill="#57534c" fill-opacity="0.35"/><circle cx="774.7" cy="486.4" r="1.7" fill="#57534c" fill-opacity="0.35"/><circle cx="815.1" cy="458.1" r="1.7" fill="#57534c" fill-opacity="0.35"/><circle cx="738.9" cy="412.1" r="1.7" fill="#57534c" fill-opacity="0.35"/><circle cx="737.5" cy="437.1" r="1.7" fill="#57534c" fill-opacity="0.35"/><circle cx="715.5" cy="452.0" r="1.7" fill="#57534c" fill-opacity="0.35"/><circle cx="900.1" cy="539.9" r="1.7" fill="#57534c" fill-opacity="0.35"/><circle cx="947.4" cy="506.0" r="1.7" fill="#57534c" fill-opacity="0.35"/><circle cx="903.2" cy="527.1" r="1.7" fill="#57534c" fill-opacity="0.35"/><circle cx="838.3" cy="477.3" r="1.7" fill="#57534c" fill-opacity="0.35"/><circle cx="708.3" cy="408.2" r="1.7" fill="#57534c" fill-opacity="0.35"/><circle cx="921.7" cy="345.7" r="1.7" fill="#57534c" fill-opacity="0.35"/><circle cx="891.9" cy="430.1" r="1.7" fill="#57534c" fill-opacity="0.35"/><circle cx="798.1" cy="467.0" r="1.7" fill="#57534c" fill-opacity="0.35"/><circle cx="845.4" cy="354.9" r="1.7" fill="#57534c" fill-opacity="0.35"/><circle cx="837.0" cy="331.7" r="1.7" fill="#57534c" fill-opacity="0.35"/><circle cx="967.2" cy="434.4" r="1.7" fill="#57534c" fill-opacity="0.35"/><circle cx="922.7" cy="373.3" r="1.7" fill="#57534c" fill-opacity="0.35"/><circle cx="966.3" cy="487.9" r="1.7" fill="#57534c" fill-opacity="0.35"/><circle cx="889.7" cy="458.5" r="1.7" fill="#57534c" fill-opacity="0.35"/><circle cx="883.4" cy="377.6" r="1.7" fill="#57534c" fill-opacity="0.35"/><circle cx="818.6" cy="405.7" r="1.7" fill="#57534c" fill-opacity="0.35"/><circle cx="873.3" cy="530.5" r="1.7" fill="#57534c" fill-opacity="0.35"/><circle cx="949.3" cy="454.8" r="1.7" fill="#57534c" fill-opacity="0.35"/><circle cx="913.1" cy="412.4" r="1.7" fill="#57534c" fill-opacity="0.35"/><circle cx="805.3" cy="338.8" r="1.7" fill="#57534c" fill-opacity="0.35"/><circle cx="745.4" cy="365.4" r="1.7" fill="#57534c" fill-opacity="0.35"/><circle cx="828.8" cy="405.0" r="1.7" fill="#57534c" fill-opacity="0.35"/><circle cx="882.3" cy="515.8" r="1.7" fill="#57534c" fill-opacity="0.35"/><circle cx="918.0" cy="423.8" r="1.7" fill="#57534c" fill-opacity="0.35"/><circle cx="787.2" cy="409.5" r="1.7" fill="#57534c" fill-opacity="0.35"/><circle cx="901.4" cy="369.6" r="1.7" fill="#57534c" fill-opacity="0.35"/><circle cx="718.6" cy="421.9" r="1.7" fill="#57534c" fill-opacity="0.35"/><circle cx="926.7" cy="510.1" r="1.7" fill="#57534c" fill-opacity="0.35"/><circle cx="885.1" cy="333.1" r="1.7" fill="#57534c" fill-opacity="0.35"/><circle cx="826.4" cy="494.9" r="1.7" fill="#57534c" fill-opacity="0.35"/><circle cx="914.7" cy="529.2" r="1.7" fill="#57534c" fill-opacity="0.35"/><circle cx="751.2" cy="463.6" r="1.7" fill="#57534c" fill-opacity="0.35"/><circle cx="716.0" cy="422.5" r="1.7" fill="#57534c" fill-opacity="0.35"/><circle cx="803.8" cy="499.3" r="1.7" fill="#57534c" fill-opacity="0.35"/><circle cx="855.6" cy="333.3" r="1.7" fill="#57534c" fill-opacity="0.35"/><circle cx="826.5" cy="475.0" r="1.7" fill="#57534c" fill-opacity="0.35"/><circle cx="958.6" cy="391.6" r="1.7" fill="#57534c" fill-opacity="0.35"/><circle cx="759.3" cy="392.3" r="1.7" fill="#57534c" fill-opacity="0.35"/><circle cx="941.0" cy="414.9" r="1.7" fill="#57534c" fill-opacity="0.35"/><circle cx="854.4" cy="479.5" r="1.7" fill="#57534c" fill-opacity="0.35"/><circle cx="771.6" cy="508.2" r="1.7" fill="#57534c" fill-opacity="0.35"/><circle cx="745.6" cy="519.3" r="1.7" fill="#57534c" fill-opacity="0.35"/><circle cx="780.1" cy="369.8" r="1.7" fill="#57534c" fill-opacity="0.35"/><circle cx="778.6" cy="358.0" r="1.7" fill="#57534c" fill-opacity="0.35"/><circle cx="761.5" cy="378.8" r="1.7" fill="#57534c" fill-opacity="0.35"/><circle cx="734.7" cy="423.0" r="1.7" fill="#57534c" fill-opacity="0.35"/><circle cx="878.1" cy="385.6" r="1.7" fill="#57534c" fill-opacity="0.35"/><circle cx="852.9" cy="397.7" r="1.4" fill="#e2ddd5" fill-opacity="0.55"/><circle cx="856.1" cy="419.6" r="1.4" fill="#e2ddd5" fill-opacity="0.55"/><circle cx="782.4" cy="439.4" r="1.4" fill="#e2ddd5" fill-opacity="0.55"/><circle cx="832.3" cy="404.4" r="1.4" fill="#e2ddd5" fill-opacity="0.55"/><circle cx="839.4" cy="460.4" r="1.4" fill="#e2ddd5" fill-opacity="0.55"/><circle cx="778.7" cy="415.0" r="1.4" fill="#e2ddd5" fill-opacity="0.55"/><circle cx="880.0" cy="435.1" r="1.4" fill="#e2ddd5" fill-opacity="0.55"/><circle cx="869.4" cy="500.1" r="1.4" fill="#e2ddd5" fill-opacity="0.55"/><circle cx="777.0" cy="449.7" r="1.4" fill="#e2ddd5" fill-opacity="0.55"/><circle cx="824.0" cy="490.1" r="1.4" fill="#e2ddd5" fill-opacity="0.55"/><circle cx="870.4" cy="382.1" r="1.4" fill="#e2ddd5" fill-opacity="0.55"/><circle cx="901.7" cy="435.4" r="1.4" fill="#e2ddd5" fill-opacity="0.55"/><circle cx="823.1" cy="436.0" r="1.4" fill="#e2ddd5" fill-opacity="0.55"/><circle cx="854.6" cy="396.7" r="1.4" fill="#e2ddd5" fill-opacity="0.55"/><circle cx="822.8" cy="488.3" r="1.4" fill="#e2ddd5" fill-opacity="0.55"/><circle cx="787.4" cy="409.9" r="1.4" fill="#e2ddd5" fill-opacity="0.55"/><circle cx="883.1" cy="396.0" r="1.4" fill="#e2ddd5" fill-opacity="0.55"/><circle cx="829.4" cy="449.8" r="1.4" fill="#e2ddd5" fill-opacity="0.55"/><circle cx="790.7" cy="421.2" r="1.4" fill="#e2ddd5" fill-opacity="0.55"/><circle cx="790.3" cy="425.6" r="1.4" fill="#e2ddd5" fill-opacity="0.55"/><circle cx="859.5" cy="435.6" r="1.4" fill="#e2ddd5" fill-opacity="0.55"/><circle cx="857.1" cy="453.0" r="1.4" fill="#e2ddd5" fill-opacity="0.55"/><circle cx="882.8" cy="392.1" r="1.4" fill="#e2ddd5" fill-opacity="0.55"/><circle cx="847.5" cy="493.9" r="1.4" fill="#e2ddd5" fill-opacity="0.55"/><circle cx="827.1" cy="422.0" r="1.4" fill="#e2ddd5" fill-opacity="0.55"/><circle cx="842.3" cy="401.5" r="1.4" fill="#e2ddd5" fill-opacity="0.55"/><circle cx="875.9" cy="434.6" r="1.4" fill="#e2ddd5" fill-opacity="0.55"/><circle cx="832.0" cy="469.1" r="1.4" fill="#e2ddd5" fill-opacity="0.55"/><circle cx="894.8" cy="386.8" r="1.4" fill="#e2ddd5" fill-opacity="0.55"/><circle cx="811.5" cy="422.1" r="1.4" fill="#e2ddd5" fill-opacity="0.55"/></g>
<rect x="706.6" y="353.3" width="254.8" height="189.80000000000007" fill="none" stroke="#3a302c" stroke-opacity="0.12" stroke-width="1.2"/>
</svg>
<svg x="988" y="351" width="254" height="190.7" viewBox="988 351 254 190.7" overflow="hidden"><g><rect x="988" y="351" width="254" height="191" fill="url(#gB4)"/><circle cx="1020.6" cy="480.5" r="1.4" fill="#e0dad4" fill-opacity="0.45"/><circle cx="1227.1" cy="478.4" r="1.4" fill="#e0dad4" fill-opacity="0.45"/><circle cx="1180.5" cy="369.0" r="1.4" fill="#e0dad4" fill-opacity="0.45"/><circle cx="1083.8" cy="375.2" r="1.4" fill="#e0dad4" fill-opacity="0.45"/><circle cx="1178.8" cy="438.3" r="1.4" fill="#e0dad4" fill-opacity="0.45"/><circle cx="1100.0" cy="477.3" r="1.4" fill="#e0dad4" fill-opacity="0.45"/><circle cx="1162.3" cy="522.9" r="1.4" fill="#e0dad4" fill-opacity="0.45"/><circle cx="1204.1" cy="492.2" r="1.4" fill="#e0dad4" fill-opacity="0.45"/><circle cx="1021.9" cy="500.0" r="1.4" fill="#e0dad4" fill-opacity="0.45"/><circle cx="1121.3" cy="367.4" r="1.4" fill="#e0dad4" fill-opacity="0.45"/><circle cx="1129.5" cy="429.8" r="1.4" fill="#e0dad4" fill-opacity="0.45"/><circle cx="1107.7" cy="503.4" r="1.4" fill="#e0dad4" fill-opacity="0.45"/><circle cx="1022.6" cy="479.4" r="1.4" fill="#e0dad4" fill-opacity="0.45"/><circle cx="1193.0" cy="389.8" r="1.4" fill="#e0dad4" fill-opacity="0.45"/><circle cx="1209.0" cy="411.7" r="1.4" fill="#e0dad4" fill-opacity="0.45"/><circle cx="1059.8" cy="499.1" r="1.4" fill="#e0dad4" fill-opacity="0.45"/><circle cx="1114.0" cy="360.2" r="1.4" fill="#e0dad4" fill-opacity="0.45"/><circle cx="1064.0" cy="487.3" r="1.4" fill="#e0dad4" fill-opacity="0.45"/><circle cx="1070.1" cy="416.1" r="1.4" fill="#e0dad4" fill-opacity="0.45"/><circle cx="1115.8" cy="445.5" r="1.4" fill="#e0dad4" fill-opacity="0.45"/><circle cx="1063.2" cy="392.8" r="1.4" fill="#e0dad4" fill-opacity="0.45"/><circle cx="1147.0" cy="513.5" r="1.4" fill="#e0dad4" fill-opacity="0.45"/><circle cx="994.0" cy="461.1" r="1.4" fill="#e0dad4" fill-opacity="0.45"/><circle cx="1186.7" cy="397.8" r="1.4" fill="#e0dad4" fill-opacity="0.45"/><circle cx="1196.2" cy="381.4" r="1.4" fill="#e0dad4" fill-opacity="0.45"/><circle cx="1172.8" cy="520.4" r="1.4" fill="#e0dad4" fill-opacity="0.45"/><circle cx="1177.2" cy="364.1" r="1.4" fill="#e0dad4" fill-opacity="0.45"/><circle cx="1119.7" cy="386.6" r="1.4" fill="#e0dad4" fill-opacity="0.45"/><circle cx="1142.3" cy="519.9" r="1.4" fill="#e0dad4" fill-opacity="0.45"/><circle cx="1141.6" cy="526.2" r="1.4" fill="#e0dad4" fill-opacity="0.45"/><circle cx="1013.6" cy="407.1" r="1.4" fill="#e0dad4" fill-opacity="0.45"/><circle cx="1072.3" cy="487.0" r="1.4" fill="#e0dad4" fill-opacity="0.45"/><circle cx="1198.9" cy="402.3" r="1.4" fill="#e0dad4" fill-opacity="0.45"/><circle cx="1047.5" cy="495.3" r="1.4" fill="#e0dad4" fill-opacity="0.45"/><circle cx="1022.9" cy="476.0" r="1.4" fill="#e0dad4" fill-opacity="0.45"/><circle cx="1048.6" cy="440.7" r="1.4" fill="#e0dad4" fill-opacity="0.45"/><circle cx="1231.7" cy="434.6" r="1.4" fill="#e0dad4" fill-opacity="0.45"/><circle cx="1118.6" cy="396.0" r="1.4" fill="#e0dad4" fill-opacity="0.45"/><circle cx="1151.7" cy="522.3" r="1.4" fill="#e0dad4" fill-opacity="0.45"/><circle cx="1159.3" cy="377.0" r="1.4" fill="#e0dad4" fill-opacity="0.45"/><circle cx="1022.2" cy="489.6" r="1.6" fill="#ece7e1" fill-opacity="0.7"/><circle cx="1004.7" cy="476.8" r="1.6" fill="#ece7e1" fill-opacity="0.7"/><circle cx="1005.5" cy="473.0" r="1.6" fill="#ece7e1" fill-opacity="0.7"/><circle cx="1006.7" cy="468.2" r="1.6" fill="#ece7e1" fill-opacity="0.7"/><circle cx="1025.3" cy="477.5" r="1.6" fill="#ece7e1" fill-opacity="0.7"/><circle cx="998.7" cy="472.1" r="1.6" fill="#ece7e1" fill-opacity="0.7"/><circle cx="1008.8" cy="469.1" r="1.6" fill="#ece7e1" fill-opacity="0.7"/><circle cx="1020.3" cy="476.0" r="1.6" fill="#ece7e1" fill-opacity="0.7"/><circle cx="1022.6" cy="467.3" r="1.6" fill="#ece7e1" fill-opacity="0.7"/><circle cx="1007.4" cy="474.1" r="1.6" fill="#ece7e1" fill-opacity="0.7"/><circle cx="1012.3" cy="474.6" r="1.6" fill="#ece7e1" fill-opacity="0.7"/><circle cx="1007.0" cy="476.9" r="1.6" fill="#ece7e1" fill-opacity="0.7"/><circle cx="1035.9" cy="472.8" r="1.6" fill="#ece7e1" fill-opacity="0.7"/><circle cx="999.2" cy="480.1" r="1.6" fill="#ece7e1" fill-opacity="0.7"/><circle cx="1006.1" cy="484.7" r="1.6" fill="#ece7e1" fill-opacity="0.7"/><circle cx="1028.8" cy="489.0" r="1.6" fill="#ece7e1" fill-opacity="0.7"/><circle cx="1139.4" cy="409.6" r="1.5" fill="#ece7e1" fill-opacity="0.7"/><circle cx="1152.1" cy="425.4" r="1.5" fill="#ece7e1" fill-opacity="0.7"/><circle cx="1151.5" cy="420.7" r="1.5" fill="#ece7e1" fill-opacity="0.7"/><circle cx="1133.6" cy="420.2" r="1.5" fill="#ece7e1" fill-opacity="0.7"/><circle cx="1123.1" cy="425.3" r="1.5" fill="#ece7e1" fill-opacity="0.7"/><circle cx="1130.8" cy="415.3" r="1.5" fill="#ece7e1" fill-opacity="0.7"/><circle cx="1142.2" cy="413.4" r="1.5" fill="#ece7e1" fill-opacity="0.7"/><circle cx="1147.1" cy="415.4" r="1.5" fill="#ece7e1" fill-opacity="0.7"/><circle cx="1153.7" cy="425.5" r="1.5" fill="#ece7e1" fill-opacity="0.7"/><circle cx="1146.2" cy="422.6" r="1.5" fill="#ece7e1" fill-opacity="0.7"/><circle cx="1138.8" cy="416.0" r="1.5" fill="#ece7e1" fill-opacity="0.7"/><circle cx="1122.0" cy="417.0" r="1.5" fill="#ece7e1" fill-opacity="0.7"/><circle cx="1092.0" cy="376.8" r="1.5" fill="#ece7e1" fill-opacity="0.6"/><circle cx="1100.7" cy="370.9" r="1.5" fill="#ece7e1" fill-opacity="0.6"/><circle cx="1088.9" cy="376.2" r="1.5" fill="#ece7e1" fill-opacity="0.6"/><circle cx="1095.5" cy="385.7" r="1.5" fill="#ece7e1" fill-opacity="0.6"/><circle cx="1115.8" cy="379.5" r="1.5" fill="#ece7e1" fill-opacity="0.6"/><circle cx="1107.1" cy="380.0" r="1.5" fill="#ece7e1" fill-opacity="0.6"/><circle cx="1021.0" cy="490.3" r="1.2" fill="#6d6660" fill-opacity="0.35"/><circle cx="1020.8" cy="483.5" r="1.2" fill="#6d6660" fill-opacity="0.35"/><circle cx="1018.9" cy="472.3" r="1.2" fill="#6d6660" fill-opacity="0.35"/><circle cx="1032.7" cy="476.7" r="1.2" fill="#6d6660" fill-opacity="0.35"/><circle cx="1034.0" cy="470.5" r="1.2" fill="#6d6660" fill-opacity="0.35"/><circle cx="1023.2" cy="490.0" r="1.2" fill="#6d6660" fill-opacity="0.35"/><circle cx="1009.1" cy="481.4" r="1.2" fill="#6d6660" fill-opacity="0.35"/><circle cx="1035.7" cy="481.3" r="1.2" fill="#6d6660" fill-opacity="0.35"/><circle cx="1006.8" cy="475.1" r="1.2" fill="#6d6660" fill-opacity="0.35"/><circle cx="1022.9" cy="472.6" r="1.2" fill="#6d6660" fill-opacity="0.35"/><ellipse cx="1223" cy="360" rx="15" ry="12" fill="url(#blob)"/><ellipse cx="990" cy="540" rx="10" ry="6" fill="#2a2623"/><ellipse cx="1070.5" cy="472.7" rx="32" ry="22" fill="url(#halo)"/><ellipse cx="1163" cy="475.7" rx="30" ry="36" fill="url(#halo)" transform="rotate(-25 1163 475.7)"/><ellipse cx="1070.5" cy="472.7" rx="22" ry="13" fill="url(#cellg)" transform="rotate(-4 1070.5 472.7)"/><ellipse cx="1125.8" cy="437.5" rx="15.5" ry="22.5" fill="url(#cellg)" transform="rotate(-18 1125.8 437.5)"/><ellipse cx="1163" cy="475.7" rx="19.5" ry="25.5" fill="url(#cellg)" transform="rotate(-25 1163 475.7)"/></g><path d="M1065.4,409.4 L1070.9,409.4 L1070.9,443 L1065.4,443 Z M1061.4,442.5 L1076.5,442.5 L1068.2,457.6 Z" fill="#fff"/><path d="M1116.7,359 L1122.4,359 L1122.4,393 L1116.7,393 Z M1112.7,392.2 L1127.8,392.2 L1119.6,409.4 Z" fill="#fff"/><path d="M1162.6,400.3 L1168.4,400.3 L1168.4,434 L1162.6,434 Z M1159,433.5 L1174,433.5 L1165.5,448.6 Z" fill="#fff"/><rect x="988.6" y="351.6" width="252.8" height="189.5" fill="none" stroke="#3a302c" stroke-opacity="0.12" stroke-width="1.2"/></svg>
<text x="-0.24" y="44.30" font-size="62.07" font-weight="bold" fill="#000" textLength="44.67" lengthAdjust="spacingAndGlyphs">A</text>
<text x="655.67" y="45.90" font-size="62.07" font-weight="bold" fill="#000" textLength="42.39" lengthAdjust="spacingAndGlyphs">B</text>
<text x="4.09" y="637.10" font-size="61.87" font-weight="bold" fill="#000" textLength="40.65" lengthAdjust="spacingAndGlyphs">C</text>
<text x="8.84" y="1305.00" font-size="60.76" font-weight="bold" fill="#000" textLength="41.69" lengthAdjust="spacingAndGlyphs">D</text>
<text x="15.22" y="1860.80" font-size="61.19" font-weight="bold" fill="#000" textLength="37.69" lengthAdjust="spacingAndGlyphs">E</text>
<text x="145.55" y="52.50" font-size="31.79" font-weight="bold" fill="#000" textLength="89.49" lengthAdjust="spacingAndGlyphs">201B7</text>
<text x="392.87" y="52.50" font-size="31.79" font-weight="bold" fill="#000" textLength="160.66" lengthAdjust="spacingAndGlyphs">201B7-CMs</text>
<text x="788.25" y="52.50" font-size="31.79" font-weight="bold" fill="#000" textLength="89.49" lengthAdjust="spacingAndGlyphs">201B7</text>
<text x="1035.26" y="52.50" font-size="31.79" font-weight="bold" fill="#000" textLength="160.96" lengthAdjust="spacingAndGlyphs">201B7-CMs</text>
<text x="147.44" y="317.50" font-size="32.22" font-weight="bold" fill="#000" textLength="70.12" lengthAdjust="spacingAndGlyphs">HCM</text>
<text x="802.94" y="317.50" font-size="32.22" font-weight="bold" fill="#000" textLength="70.12" lengthAdjust="spacingAndGlyphs">HCM</text>
<text x="364.94" y="300.90" font-size="29.81" font-weight="bold" fill="#000" textLength="186.66" lengthAdjust="spacingAndGlyphs">1% Hela cells</text>
<text x="356.46" y="335.50" font-size="29.26" font-weight="bold" fill="#000" textLength="204.73" lengthAdjust="spacingAndGlyphs">spiked in HCM</text>
<text x="1019.05" y="302.90" font-size="29.81" font-weight="bold" fill="#000" textLength="186.16" lengthAdjust="spacingAndGlyphs">1% Hela cells</text>
<text x="1010.15" y="337.50" font-size="29.26" font-weight="bold" fill="#000" textLength="205.14" lengthAdjust="spacingAndGlyphs">spiked in HCM</text>
<line x1="127.2" y1="682.6" x2="127.2" y2="1188.3" stroke="#000" stroke-width="2.2"/>
<line x1="126.1" y1="1187.3" x2="1039" y2="1187.3" stroke="#000" stroke-width="2"/>
<text x="85.74" y="1195.30" font-size="30.79" font-weight="bold">0</text>
<text x="85.49" y="1123.52" font-size="31.22" font-weight="bold">2</text>
<text x="84.15" y="1051.44" font-size="31.69" font-weight="bold">4</text>
<text x="85.59" y="979.06" font-size="30.79" font-weight="bold">6</text>
<text x="85.42" y="906.98" font-size="30.79" font-weight="bold">8</text>
<text x="68.61" y="834.90" font-size="30.79" font-weight="bold">10</text>
<text x="68.12" y="763.12" font-size="31.22" font-weight="bold">12</text>
<text x="66.53" y="691.04" font-size="31.69" font-weight="bold">14</text>
<text transform="translate(40.20,1033.30) rotate(-90)" x="-1.96" y="0" font-size="31.74" font-weight="bold" fill="#000" textLength="297.56" lengthAdjust="spacingAndGlyphs">Relative Fold Change</text>
<text x="304.86" y="1237.70" font-size="36.09" font-weight="bold" fill="#000" textLength="102.97" lengthAdjust="spacingAndGlyphs">Day10</text>
<text x="759.86" y="1237.70" font-size="36.09" font-weight="bold" fill="#000" textLength="102.97" lengthAdjust="spacingAndGlyphs">Day20</text>
<rect x="152.70" y="1151.90" width="22.4" height="34.40" fill="#5f5f5f" stroke="#4f4f4f" stroke-width="1"/>
<rect x="182.12" y="1151.90" width="22.4" height="34.40" fill="#b2b2b2" stroke="#a8a8a8" stroke-width="1"/>
<rect x="211.54" y="1151.90" width="22.4" height="34.40" fill="#8b8b8b" stroke="#7d7d7d" stroke-width="1"/>
<rect x="240.96" y="1146.60" width="22.4" height="39.70" fill="#212121" stroke="#0d0d0d" stroke-width="1"/>
<rect x="270.38" y="1142.50" width="22.4" height="43.80" fill="#d9d9d9" stroke="#d3d3d3" stroke-width="1"/>
<rect x="299.80" y="1151.90" width="22.4" height="34.40" fill="#a6a6a6" stroke="#9a9a9a" stroke-width="1"/>
<rect x="329.22" y="1151.90" width="22.4" height="34.40" fill="#7f7f7f" stroke="#707070" stroke-width="1"/>
<rect x="358.64" y="1148.60" width="22.4" height="37.70" fill="#5e5e5e" stroke="#4d4d4d" stroke-width="1"/>
<rect x="388.06" y="1146.60" width="22.4" height="39.70" fill="#b0b0b0" stroke="#a6a6a6" stroke-width="1"/>
<rect x="417.48" y="1151.90" width="22.4" height="34.40" fill="#8b8b8b" stroke="#7d7d7d" stroke-width="1"/>
<rect x="446.90" y="1150.30" width="22.4" height="36.00" fill="#202020" stroke="#0d0d0d" stroke-width="1"/>
<rect x="476.32" y="1152.10" width="22.4" height="34.20" fill="#dadada" stroke="#d4d4d4" stroke-width="1"/>
<rect x="505.74" y="1150.30" width="22.4" height="36.00" fill="#a6a6a6" stroke="#9a9a9a" stroke-width="1"/>
<rect x="535.16" y="1154.10" width="22.4" height="32.20" fill="#808080" stroke="#707070" stroke-width="1"/>
<rect x="608.40" y="1146.50" width="22.4" height="39.80" fill="#5f5f5f" stroke="#4f4f4f" stroke-width="1"/>
<rect x="637.72" y="1139.20" width="22.4" height="47.10" fill="#b2b2b2" stroke="#a8a8a8" stroke-width="1"/>
<rect x="667.04" y="1095.20" width="22.4" height="91.10" fill="#8b8b8b" stroke="#7d7d7d" stroke-width="1"/>
<rect x="696.36" y="927.50" width="22.4" height="258.80" fill="#212121" stroke="#0d0d0d" stroke-width="1"/>
<rect x="725.68" y="796.60" width="22.4" height="389.70" fill="#d9d9d9" stroke="#d3d3d3" stroke-width="1"/>
<rect x="755.00" y="1144.70" width="22.4" height="41.60" fill="#a6a6a6" stroke="#9a9a9a" stroke-width="1"/>
<rect x="784.32" y="1150.20" width="22.4" height="36.10" fill="#7f7f7f" stroke="#707070" stroke-width="1"/>
<rect x="813.64" y="1144.70" width="22.4" height="41.60" fill="#5e5e5e" stroke="#4d4d4d" stroke-width="1"/>
<rect x="842.96" y="1150.20" width="22.4" height="36.10" fill="#b0b0b0" stroke="#a6a6a6" stroke-width="1"/>
<rect x="872.28" y="1150.20" width="22.4" height="36.10" fill="#8b8b8b" stroke="#7d7d7d" stroke-width="1"/>
<rect x="901.60" y="1150.20" width="22.4" height="36.10" fill="#202020" stroke="#0d0d0d" stroke-width="1"/>
<rect x="930.92" y="1156.00" width="22.4" height="30.30" fill="#dadada" stroke="#d4d4d4" stroke-width="1"/>
<rect x="960.24" y="1150.20" width="22.4" height="36.10" fill="#a6a6a6" stroke="#9a9a9a" stroke-width="1"/>
<rect x="989.56" y="1152.10" width="22.4" height="34.20" fill="#808080" stroke="#707070" stroke-width="1"/>
<g stroke="#595959" stroke-width="2" fill="none"><path d="M163.90,1141.3 V1159 M157.90,1141.3 H169.90 M157.90,1159 H169.90" /><path d="M193.32,1143 V1157.4 M187.32,1143 H199.32 M187.32,1157.4 H199.32" /><path d="M222.74,1145 V1157.4 M216.74,1145 H228.74 M216.74,1157.4 H228.74" /><path d="M252.16,1141.6 V1150.8 M246.16,1141.6 H258.16 M246.16,1150.8 H258.16" /><path d="M281.58,1139.6 V1145.3 M275.58,1139.6 H287.58 M275.58,1145.3 H287.58" /><path d="M311.00,1147 V1156.3 M305.00,1147 H317.00 M305.00,1156.3 H317.00" /><path d="M340.42,1147 V1156.3 M334.42,1147 H346.42 M334.42,1156.3 H346.42" /><path d="M369.84,1143 V1154 M363.84,1143 H375.84 M363.84,1154 H375.84" /><path d="M428.68,1150.6 V1154.1 M422.68,1150.6 H434.68 M422.68,1154.1 H434.68" /><path d="M458.10,1145 V1155 M452.10,1145 H464.10 M452.10,1155 H464.10" /><path d="M516.94,1145 V1154.6 M510.94,1145 H522.94 M510.94,1154.6 H522.94" /><path d="M546.36,1143 V1163.6 M540.36,1143 H552.36 M540.36,1163.6 H552.36" /><path d="M619.60,1141.5 V1150.2 M613.60,1141.5 H625.60 M613.60,1150.2 H625.60" /><path d="M648.92,1130.3 V1147.2 M642.92,1130.3 H654.92 M642.92,1147.2 H654.92" /><path d="M678.24,1082.5 V1106.6 M672.24,1082.5 H684.24 M672.24,1106.6 H684.24" /><path d="M707.56,871 V983.1 M701.56,871 H713.56 M701.56,983.1 H713.56" /><path d="M736.88,756.5 V835.7 M730.88,756.5 H742.88 M730.88,835.7 H742.88" /><path d="M766.20,1134 V1154.3 M760.20,1134 H772.20 M760.20,1154.3 H772.20" /><path d="M795.52,1146.8 V1154.3 M789.52,1146.8 H801.52 M789.52,1154.3 H801.52" /><path d="M824.84,1141.2 V1147.4 M818.84,1141.2 H830.84 M818.84,1147.4 H830.84" /><path d="M883.48,1143.4 V1156.2 M877.48,1143.4 H889.48 M877.48,1156.2 H889.48" /><path d="M912.80,1146.8 V1153.9 M906.80,1146.8 H918.80 M906.80,1153.9 H918.80" /><path d="M971.44,1148.5 V1150.6 M965.44,1148.5 H977.44 M965.44,1150.6 H977.44" /><path d="M1000.76,1146.8 V1156.4 M994.76,1146.8 H1006.76 M994.76,1156.4 H1006.76" /></g>
<g stroke="#000" stroke-width="2.1" stroke-linecap="round"><line x1="726.40" y1="720.80" x2="726.40" y2="733.60"/><line x1="720.86" y1="724.00" x2="731.94" y2="730.40"/><line x1="720.86" y1="730.40" x2="731.94" y2="724.00"/><line x1="748.50" y1="720.80" x2="748.50" y2="733.60"/><line x1="742.96" y1="724.00" x2="754.04" y2="730.40"/><line x1="742.96" y1="730.40" x2="754.04" y2="724.00"/><line x1="691.50" y1="817.10" x2="691.50" y2="829.90"/><line x1="685.96" y1="820.30" x2="697.04" y2="826.70"/><line x1="685.96" y1="826.70" x2="697.04" y2="820.30"/><line x1="713.70" y1="817.10" x2="713.70" y2="829.90"/><line x1="708.16" y1="820.30" x2="719.24" y2="826.70"/><line x1="708.16" y1="826.70" x2="719.24" y2="820.30"/></g>
<rect x="1084.3" y="671.80" width="13.8" height="11.6" fill="#5f5f5f" stroke="#4f4f4f" stroke-width="0.8"/>
<text x="1103.72" y="685.20" font-size="27.6" fill="#111" textLength="100.88" lengthAdjust="spacing">0% Hela</text>
<rect x="1084.3" y="708.60" width="13.8" height="11.6" fill="#b2b2b2" stroke="#a8a8a8" stroke-width="0.8"/>
<text x="1103.72" y="722.00" font-size="27.6" fill="#111" textLength="138.78" lengthAdjust="spacing">0.01% Hela</text>
<rect x="1084.3" y="745.40" width="13.8" height="11.6" fill="#8b8b8b" stroke="#7d7d7d" stroke-width="0.8"/>
<text x="1103.72" y="758.80" font-size="27.6" fill="#111" textLength="124.28" lengthAdjust="spacing">0.1% Hela</text>
<rect x="1084.3" y="782.20" width="13.8" height="11.6" fill="#212121" stroke="#0d0d0d" stroke-width="0.8"/>
<text x="1103.72" y="795.60" font-size="27.6" fill="#111" textLength="124.28" lengthAdjust="spacing">0.5% Hela</text>
<rect x="1084.3" y="819.00" width="13.8" height="11.6" fill="#d9d9d9" stroke="#d3d3d3" stroke-width="0.8"/>
<text x="1103.72" y="832.40" font-size="27.6" fill="#111" textLength="100.88" lengthAdjust="spacing">1% Hela</text>
<rect x="1084.3" y="855.80" width="13.8" height="11.6" fill="#a6a6a6" stroke="#9a9a9a" stroke-width="0.8"/>
<text x="1103.72" y="869.20" font-size="27.6" fill="#111" textLength="113.17" lengthAdjust="spacing">HCM lot2</text>
<rect x="1084.3" y="892.60" width="13.8" height="11.6" fill="#7f7f7f" stroke="#707070" stroke-width="0.8"/>
<text x="1103.72" y="906.00" font-size="27.6" fill="#111" textLength="112.99" lengthAdjust="spacing">HCM lot3</text>
<rect x="1084.3" y="929.40" width="13.8" height="11.6" fill="#5e5e5e" stroke="#4d4d4d" stroke-width="0.8"/>
<text x="1103.72" y="942.80" font-size="27.6" fill="#111" textLength="112.59" lengthAdjust="spacing">HCM lot4</text>
<rect x="1084.3" y="966.20" width="13.8" height="11.6" fill="#b0b0b0" stroke="#a6a6a6" stroke-width="0.8"/>
<text x="1103.72" y="979.60" font-size="27.6" fill="#111" textLength="77.97" lengthAdjust="spacing">201B7</text>
<rect x="1084.3" y="1003.00" width="13.8" height="11.6" fill="#8b8b8b" stroke="#7d7d7d" stroke-width="0.8"/>
<text x="1103.72" y="1016.40" font-size="27.6" fill="#111" textLength="79.03" lengthAdjust="spacing">253G1</text>
<rect x="1084.3" y="1039.80" width="13.8" height="11.6" fill="#202020" stroke="#0d0d0d" stroke-width="0.8"/>
<text x="1103.72" y="1053.20" font-size="27.6" fill="#111" textLength="92.99" lengthAdjust="spacing">1231A3</text>
<rect x="1084.3" y="1076.60" width="13.8" height="11.6" fill="#dadada" stroke="#d4d4d4" stroke-width="0.8"/>
<text x="1103.72" y="1090.00" font-size="27.6" fill="#111" textLength="143.58" lengthAdjust="spacing">201B7-CMs</text>
<rect x="1084.3" y="1113.40" width="13.8" height="11.6" fill="#a6a6a6" stroke="#9a9a9a" stroke-width="0.8"/>
<text x="1103.72" y="1126.80" font-size="27.6" fill="#111" textLength="147.88" lengthAdjust="spacing">253G1-CMs</text>
<rect x="1084.3" y="1150.20" width="13.8" height="11.6" fill="#808080" stroke="#707070" stroke-width="0.8"/>
<text x="1103.72" y="1163.60" font-size="27.6" fill="#111" textLength="157.68" lengthAdjust="spacing">1231A3-CMs</text>
<line x1="134.4" y1="1297.4" x2="134.4" y2="1753.6" stroke="#404040" stroke-width="1.8"/>
<line x1="133.5" y1="1752.6" x2="902.6" y2="1752.6" stroke="#404040" stroke-width="2"/>
<text x="98.78" y="1762.70" font-size="25.56" fill="#595959">0</text>
<text x="77.71" y="1711.96" font-size="25.56" fill="#595959">0.1</text>
<text x="77.75" y="1661.22" font-size="25.56" fill="#595959">0.2</text>
<text x="77.59" y="1610.48" font-size="25.56" fill="#595959">0.3</text>
<text x="77.21" y="1559.74" font-size="25.56" fill="#595959">0.4</text>
<text x="77.54" y="1509.00" font-size="25.56" fill="#595959">0.5</text>
<text x="77.59" y="1458.26" font-size="25.56" fill="#595959">0.6</text>
<text x="77.75" y="1407.52" font-size="25.56" fill="#595959">0.7</text>
<text x="77.57" y="1356.78" font-size="25.56" fill="#595959">0.8</text>
<text x="77.67" y="1306.04" font-size="25.56" fill="#595959">0.9</text>
<text transform="translate(48.70,1593.00) rotate(-90)" x="-1.98" y="0" font-size="30.36" font-weight="bold" fill="#000" textLength="190.74" lengthAdjust="spacingAndGlyphs">Doubling/Day</text>
<text x="195.67" y="1792.40" font-size="25.35" font-weight="normal" fill="#595959" textLength="31.77" lengthAdjust="spacingAndGlyphs">P6</text>
<text x="347.80" y="1792.40" font-size="25.73" font-weight="normal" fill="#595959" textLength="32.74" lengthAdjust="spacingAndGlyphs">P7</text>
<text x="500.83" y="1792.40" font-size="25.35" font-weight="normal" fill="#595959" textLength="32.43" lengthAdjust="spacingAndGlyphs">P8</text>
<text x="654.41" y="1792.40" font-size="25.35" font-weight="normal" fill="#595959" textLength="34.11" lengthAdjust="spacingAndGlyphs">P9</text>
<text x="800.11" y="1792.40" font-size="25.35" font-weight="normal" fill="#595959" textLength="47.54" lengthAdjust="spacingAndGlyphs">P10</text>
<polyline points="213.3,1681.6 366.6,1631.3 519.4,1583.1 674.0,1607.0 826.7,1632.9" fill="none" stroke="#808080" stroke-width="4.4" stroke-linejoin="round"/>
<circle cx="213.3" cy="1681.6" r="5.7" fill="#808080"/>
<circle cx="366.6" cy="1631.3" r="5.7" fill="#808080"/>
<circle cx="519.4" cy="1583.1" r="5.7" fill="#808080"/>
<circle cx="674.0" cy="1607.0" r="5.7" fill="#808080"/>
<circle cx="826.7" cy="1632.9" r="5.7" fill="#808080"/>
<polyline points="213.3,1697.8 366.6,1612.6 519.4,1567.4 674.0,1441.1 826.7,1401.0" fill="none" stroke="#999999" stroke-width="4.4" stroke-linejoin="round"/>
<circle cx="213.3" cy="1697.8" r="5.7" fill="#999999"/>
<circle cx="366.6" cy="1612.6" r="5.7" fill="#999999"/>
<circle cx="519.4" cy="1567.4" r="5.7" fill="#999999"/>
<circle cx="674.0" cy="1441.1" r="5.7" fill="#999999"/>
<circle cx="826.7" cy="1401.0" r="5.7" fill="#999999"/>
<polyline points="213.3,1692.7 366.6,1596.8 519.4,1489.8 674.0,1346.7 826.7,1357.3" fill="none" stroke="#aaaaaa" stroke-width="4.4" stroke-linejoin="round"/>
<circle cx="213.3" cy="1692.7" r="5.7" fill="#aaaaaa"/>
<circle cx="366.6" cy="1596.8" r="5.7" fill="#aaaaaa"/>
<circle cx="519.4" cy="1489.8" r="5.7" fill="#aaaaaa"/>
<circle cx="674.0" cy="1346.7" r="5.7" fill="#aaaaaa"/>
<circle cx="826.7" cy="1357.3" r="5.7" fill="#aaaaaa"/>
<polyline points="213.3,1688.2 366.6,1568.9 519.4,1395.4 674.0,1360.9 826.7,1366.0" fill="none" stroke="#d3d3d3" stroke-width="4.4" stroke-linejoin="round"/>
<circle cx="213.3" cy="1688.2" r="5.7" fill="#d3d3d3"/>
<circle cx="366.6" cy="1568.9" r="5.7" fill="#d3d3d3"/>
<circle cx="519.4" cy="1395.4" r="5.7" fill="#d3d3d3"/>
<circle cx="674.0" cy="1360.9" r="5.7" fill="#d3d3d3"/>
<circle cx="826.7" cy="1366.0" r="5.7" fill="#d3d3d3"/>
<line x1="928" y1="1405.0" x2="976" y2="1405.0" stroke="#808080" stroke-width="4.4" stroke-linecap="round"/>
<circle cx="952.8" cy="1405.0" r="5.7" fill="#808080"/>
<text x="980.61" y="1413.30" font-size="25.39" font-weight="normal" fill="#595959" textLength="96.09" lengthAdjust="spacing">0% Hela</text>
<line x1="928" y1="1488.8" x2="976" y2="1488.8" stroke="#999999" stroke-width="4.4" stroke-linecap="round"/>
<circle cx="952.8" cy="1488.8" r="5.7" fill="#999999"/>
<text x="980.61" y="1497.10" font-size="25.39" font-weight="normal" fill="#595959" textLength="145.99" lengthAdjust="spacing">0.001% Hela</text>
<line x1="928" y1="1572.6" x2="976" y2="1572.6" stroke="#aaaaaa" stroke-width="4.4" stroke-linecap="round"/>
<circle cx="952.8" cy="1572.6" r="5.7" fill="#aaaaaa"/>
<text x="980.61" y="1580.90" font-size="25.39" font-weight="normal" fill="#595959" textLength="133.29" lengthAdjust="spacing">0.01% Hela</text>
<line x1="928" y1="1656.4" x2="976" y2="1656.4" stroke="#d3d3d3" stroke-width="4.4" stroke-linecap="round"/>
<circle cx="952.8" cy="1656.4" r="5.7" fill="#d3d3d3"/>
<text x="980.61" y="1664.70" font-size="25.39" font-weight="normal" fill="#595959" textLength="117.99" lengthAdjust="spacing">0.1% Hela</text>
<line x1="138.5" y1="1838.6" x2="138.5" y2="2261.6" stroke="#262626" stroke-width="1.8"/>
<line x1="137.6" y1="2260.8" x2="889.6" y2="2260.8" stroke="#262626" stroke-width="2"/>
<text x="101.84" y="2269.49" font-size="26.41" fill="#1a1a1a">0</text>
<text x="80.11" y="2175.97" font-size="26.41" fill="#1a1a1a">0.2</text>
<text x="79.56" y="2082.45" font-size="26.41" fill="#1a1a1a">0.4</text>
<text x="79.94" y="1988.93" font-size="26.41" fill="#1a1a1a">0.6</text>
<text x="79.93" y="1895.41" font-size="26.41" fill="#1a1a1a">0.8</text>
<text transform="translate(48.70,2175.50) rotate(-90)" x="-1.98" y="0" font-size="30.36" font-weight="bold" fill="#000" textLength="190.84" lengthAdjust="spacingAndGlyphs">Doubling/Day</text>
<text x="194.99" y="2298.90" font-size="26.07" font-weight="normal" fill="#1a1a1a" textLength="33.00" lengthAdjust="spacingAndGlyphs">P6</text>
<text x="346.28" y="2298.90" font-size="26.45" font-weight="normal" fill="#1a1a1a" textLength="33.08" lengthAdjust="spacingAndGlyphs">P7</text>
<text x="496.80" y="2298.90" font-size="26.07" font-weight="normal" fill="#1a1a1a" textLength="32.87" lengthAdjust="spacingAndGlyphs">P8</text>
<text x="648.52" y="2298.90" font-size="26.07" font-weight="normal" fill="#1a1a1a" textLength="32.54" lengthAdjust="spacingAndGlyphs">P9</text>
<text x="790.37" y="2298.90" font-size="26.07" font-weight="normal" fill="#1a1a1a" textLength="46.25" lengthAdjust="spacingAndGlyphs">P10</text>
<polyline points="215.6,2184.1 364.5,2150.2 515.7,2172.3 666.6,2172.3 815.2,2186.7" fill="none" stroke="#595959" stroke-width="4.4" stroke-linejoin="round"/>
<circle cx="215.6" cy="2184.1" r="5.7" fill="#595959"/>
<circle cx="364.5" cy="2150.2" r="5.7" fill="#595959"/>
<circle cx="515.7" cy="2172.3" r="5.7" fill="#595959"/>
<circle cx="666.6" cy="2172.3" r="5.7" fill="#595959"/>
<circle cx="815.2" cy="2186.7" r="5.7" fill="#595959"/>
<polyline points="215.6,2221.7 364.5,2201.7 515.7,2190.9 666.6,2178.0 815.2,2200.3" fill="none" stroke="#bcbcbc" stroke-width="4.4" stroke-linejoin="round"/>
<circle cx="215.6" cy="2221.7" r="5.7" fill="#bcbcbc"/>
<circle cx="364.5" cy="2201.7" r="5.7" fill="#bcbcbc"/>
<circle cx="515.7" cy="2190.9" r="5.7" fill="#bcbcbc"/>
<circle cx="666.6" cy="2178.0" r="5.7" fill="#bcbcbc"/>
<circle cx="815.2" cy="2200.3" r="5.7" fill="#bcbcbc"/>
<polyline points="215.6,2184.1 364.5,2202.6 515.7,2212.7 666.6,2194.5 815.2,2207.8" fill="none" stroke="#7f7f7f" stroke-width="4.4" stroke-linejoin="round"/>
<circle cx="215.6" cy="2184.1" r="5.7" fill="#7f7f7f"/>
<circle cx="364.5" cy="2202.6" r="5.7" fill="#7f7f7f"/>
<circle cx="515.7" cy="2212.7" r="5.7" fill="#7f7f7f"/>
<circle cx="666.6" cy="2194.5" r="5.7" fill="#7f7f7f"/>
<circle cx="815.2" cy="2207.8" r="5.7" fill="#7f7f7f"/>
<polyline points="215.6,2193.2 364.5,2202.9 515.7,2204.5 666.6,2190.9 815.2,2179.7" fill="none" stroke="#1a1a1a" stroke-width="4.4" stroke-linejoin="round"/>
<circle cx="215.6" cy="2193.2" r="5.7" fill="#1a1a1a"/>
<circle cx="364.5" cy="2202.9" r="5.7" fill="#1a1a1a"/>
<circle cx="515.7" cy="2204.5" r="5.7" fill="#1a1a1a"/>
<circle cx="666.6" cy="2190.9" r="5.7" fill="#1a1a1a"/>
<circle cx="815.2" cy="2179.7" r="5.7" fill="#1a1a1a"/>
<polyline points="215.6,2171.9 364.5,2173.9 515.7,2190.6 666.6,2156.8 815.2,2191.6" fill="none" stroke="#d9d9d9" stroke-width="4.4" stroke-linejoin="round"/>
<circle cx="215.6" cy="2171.9" r="5.7" fill="#d9d9d9"/>
<circle cx="364.5" cy="2173.9" r="5.7" fill="#d9d9d9"/>
<circle cx="515.7" cy="2190.6" r="5.7" fill="#d9d9d9"/>
<circle cx="666.6" cy="2156.8" r="5.7" fill="#d9d9d9"/>
<circle cx="815.2" cy="2191.6" r="5.7" fill="#d9d9d9"/>
<polyline points="215.6,2159.8 364.5,2190.5 515.7,2155.7 666.6,2156.8 815.2,2158.0" fill="none" stroke="#a5a5a5" stroke-width="4.4" stroke-linejoin="round"/>
<circle cx="215.6" cy="2159.8" r="5.7" fill="#a5a5a5"/>
<circle cx="364.5" cy="2190.5" r="5.7" fill="#a5a5a5"/>
<circle cx="515.7" cy="2155.7" r="5.7" fill="#a5a5a5"/>
<circle cx="666.6" cy="2156.8" r="5.7" fill="#a5a5a5"/>
<circle cx="815.2" cy="2158.0" r="5.7" fill="#a5a5a5"/>
<line x1="933" y1="1915.1" x2="980" y2="1915.1" stroke="#595959" stroke-width="4.4" stroke-linecap="round"/>
<circle cx="958.1" cy="1915.1" r="5.7" fill="#595959"/>
<text x="985.22" y="1923.30" font-size="25.49" font-weight="normal" fill="#1a1a1a" textLength="192.73" lengthAdjust="spacing">201B7-CMs Lot1</text>
<line x1="933" y1="1975.8" x2="980" y2="1975.8" stroke="#bcbcbc" stroke-width="4.4" stroke-linecap="round"/>
<circle cx="958.1" cy="1975.8" r="5.7" fill="#bcbcbc"/>
<text x="985.22" y="1984.00" font-size="25.49" font-weight="normal" fill="#1a1a1a" textLength="194.36" lengthAdjust="spacing">201B7-CMs Lot2</text>
<line x1="933" y1="2038.6" x2="980" y2="2038.6" stroke="#7f7f7f" stroke-width="4.4" stroke-linecap="round"/>
<circle cx="958.1" cy="2038.6" r="5.7" fill="#7f7f7f"/>
<text x="985.22" y="2046.80" font-size="25.49" font-weight="normal" fill="#1a1a1a" textLength="195.43" lengthAdjust="spacing">253G1-CMs Lot1</text>
<line x1="933" y1="2099.5" x2="980" y2="2099.5" stroke="#1a1a1a" stroke-width="4.4" stroke-linecap="round"/>
<circle cx="958.1" cy="2099.5" r="5.7" fill="#1a1a1a"/>
<text x="985.22" y="2107.70" font-size="25.49" font-weight="normal" fill="#1a1a1a" textLength="198.66" lengthAdjust="spacing">253G1-CMs Lot2</text>
<line x1="933" y1="2161.1" x2="980" y2="2161.1" stroke="#d9d9d9" stroke-width="4.4" stroke-linecap="round"/>
<circle cx="958.1" cy="2161.1" r="5.7" fill="#d9d9d9"/>
<text x="984.56" y="2169.30" font-size="25.49" font-weight="normal" fill="#1a1a1a" textLength="207.99" lengthAdjust="spacing">1231A3-CMs Lot1</text>
<line x1="933" y1="2224.3" x2="980" y2="2224.3" stroke="#a5a5a5" stroke-width="4.4" stroke-linecap="round"/>
<circle cx="958.1" cy="2224.3" r="5.7" fill="#a5a5a5"/>
<text x="984.56" y="2232.50" font-size="25.49" font-weight="normal" fill="#1a1a1a" textLength="210.52" lengthAdjust="spacing">1231A3-CMs Lot2</text>
</svg></body></html>
